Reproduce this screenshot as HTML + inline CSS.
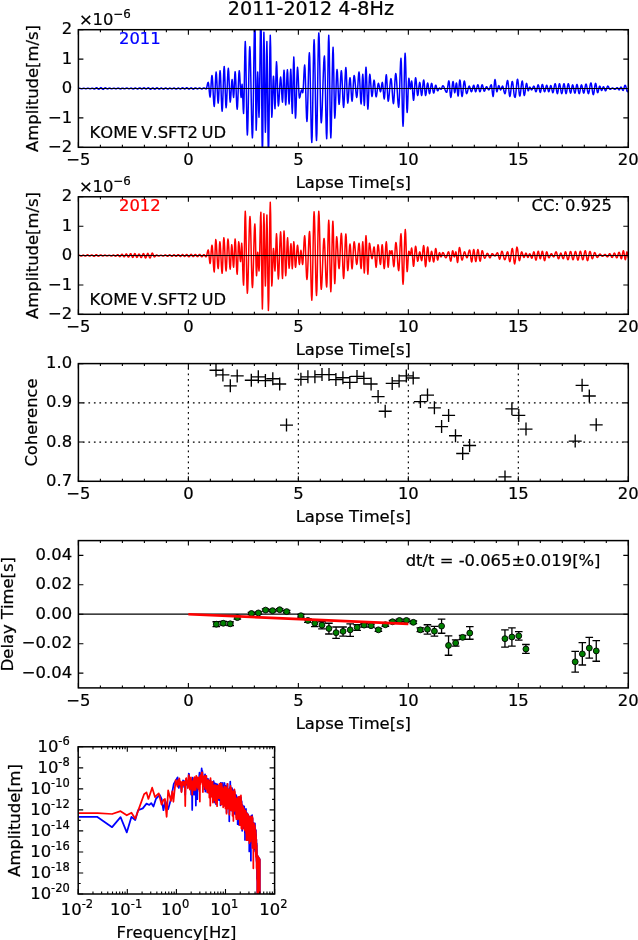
<!DOCTYPE html>
<html><head><meta charset="utf-8"><title>2011-2012 4-8Hz</title>
<style>html,body{margin:0;padding:0;background:#fff}svg{display:block}text{font-kerning:none;stroke-width:.22px}</style></head>
<body>
<svg width="638" height="940" viewBox="0 0 638 940" font-family='"DejaVu Sans", "Liberation Sans", sans-serif'>
<rect width="638" height="940" fill="#fff"/>
<text x="310.90" y="15.20" font-size="19.15" text-anchor="middle" fill="#000" stroke="#000" >2011-2012 4-8Hz</text>
<clipPath id="c1"><rect x="78.4" y="29.7" width="549.9" height="117.60000000000001"/></clipPath>
<g clip-path="url(#c1)"><path d="M77.18 88.68L77.55 88.65L77.92 88.58L78.29 88.47L78.66 88.36L79.03 88.29L79.39 88.26L79.76 88.29L80.13 88.39L80.50 88.51L80.87 88.64L81.24 88.74L81.60 88.77L81.97 88.74L82.33 88.65L82.69 88.52L83.05 88.40L83.41 88.31L83.77 88.28L84.12 88.31L84.47 88.39L84.82 88.50L85.17 88.61L85.52 88.70L85.87 88.73L86.22 88.69L86.58 88.59L86.94 88.46L87.29 88.32L87.65 88.22L88.01 88.19L88.37 88.23L88.73 88.35L89.10 88.51L89.46 88.67L89.82 88.78L90.18 88.82L90.54 88.78L90.89 88.66L91.24 88.49L91.60 88.32L91.95 88.20L92.30 88.15L92.66 88.22L93.02 88.39L93.38 88.62L93.73 88.85L94.09 89.02L94.45 89.09L94.80 88.99L95.15 88.74L95.49 88.38L95.84 88.03L96.19 87.77L96.54 87.68L96.91 87.79L97.28 88.08L97.65 88.47L98.02 88.87L98.39 89.15L98.76 89.26L99.12 89.15L99.48 88.85L99.83 88.44L100.19 88.02L100.54 87.72L100.90 87.61L101.26 87.73L101.62 88.06L101.98 88.51L102.33 88.96L102.69 89.28L103.05 89.40L103.42 89.30L103.78 89.01L104.15 88.61L104.52 88.21L104.88 87.92L105.25 87.81L105.62 87.89L105.99 88.09L106.36 88.37L106.73 88.65L107.10 88.86L107.46 88.93L107.81 88.88L108.15 88.72L108.49 88.51L108.83 88.30L109.17 88.15L109.52 88.10L109.88 88.14L110.24 88.28L110.60 88.46L110.96 88.64L111.32 88.77L111.68 88.82L112.03 88.77L112.39 88.65L112.75 88.48L113.10 88.30L113.46 88.18L113.82 88.13L114.19 88.18L114.56 88.32L114.94 88.50L115.31 88.68L115.68 88.82L116.06 88.86L116.41 88.81L116.76 88.67L117.11 88.47L117.46 88.27L117.80 88.13L118.15 88.08L118.51 88.13L118.87 88.29L119.23 88.50L119.59 88.71L119.95 88.86L120.31 88.92L120.69 88.86L121.06 88.72L121.44 88.52L121.81 88.32L122.18 88.17L122.56 88.12L122.91 88.17L123.25 88.31L123.60 88.49L123.95 88.68L124.30 88.82L124.64 88.87L125.00 88.82L125.37 88.66L125.73 88.45L126.09 88.24L126.45 88.08L126.81 88.03L127.18 88.08L127.54 88.23L127.91 88.43L128.27 88.63L128.64 88.77L129.00 88.83L129.34 88.78L129.69 88.64L130.03 88.46L130.37 88.27L130.71 88.13L131.06 88.08L131.41 88.14L131.77 88.30L132.12 88.52L132.48 88.73L132.83 88.89L133.19 88.95L133.55 88.89L133.92 88.72L134.29 88.49L134.66 88.25L135.02 88.08L135.39 88.02L135.75 88.08L136.10 88.26L136.46 88.50L136.82 88.74L137.17 88.92L137.53 88.98L137.89 88.91L138.26 88.72L138.62 88.45L138.99 88.19L139.35 87.99L139.71 87.92L140.07 87.99L140.43 88.19L140.79 88.46L141.15 88.72L141.51 88.92L141.87 88.99L142.23 88.91L142.59 88.70L142.94 88.41L143.30 88.12L143.65 87.91L144.01 87.84L144.36 87.91L144.71 88.13L145.06 88.42L145.41 88.71L145.76 88.93L146.11 89.01L146.47 88.93L146.83 88.72L147.19 88.43L147.55 88.14L147.91 87.92L148.27 87.85L148.64 87.94L149.01 88.20L149.38 88.56L149.75 88.92L150.12 89.18L150.49 89.27L150.85 89.18L151.22 88.93L151.58 88.59L151.94 88.25L152.30 87.99L152.66 87.90L153.02 87.99L153.39 88.23L153.75 88.56L154.12 88.88L154.48 89.12L154.84 89.21L155.20 89.11L155.56 88.85L155.91 88.50L156.27 88.14L156.62 87.89L156.98 87.79L157.34 87.88L157.71 88.13L158.07 88.46L158.44 88.80L158.81 89.04L159.17 89.13L159.52 89.06L159.88 88.86L160.23 88.58L160.58 88.30L160.93 88.10L161.29 88.02L161.66 88.10L162.03 88.30L162.40 88.58L162.77 88.86L163.14 89.07L163.51 89.14L163.86 89.06L164.21 88.85L164.55 88.55L164.90 88.25L165.25 88.03L165.60 87.95L165.96 88.03L166.32 88.23L166.68 88.51L167.04 88.78L167.40 88.99L167.76 89.06L168.10 89.00L168.44 88.81L168.79 88.56L169.13 88.31L169.47 88.13L169.81 88.07L170.17 88.12L170.53 88.28L170.88 88.50L171.24 88.72L171.60 88.88L171.95 88.94L172.30 88.88L172.65 88.71L173.00 88.49L173.35 88.27L173.70 88.10L174.05 88.04L174.41 88.11L174.77 88.29L175.13 88.53L175.48 88.78L175.84 88.96L176.20 89.02L176.55 88.96L176.90 88.78L177.25 88.54L177.60 88.29L177.94 88.11L178.29 88.05L178.65 88.11L179.01 88.29L179.36 88.53L179.72 88.77L180.07 88.95L180.43 89.01L180.78 88.93L181.14 88.71L181.49 88.40L181.85 88.10L182.20 87.88L182.55 87.80L182.91 87.88L183.27 88.10L183.63 88.40L183.99 88.70L184.35 88.92L184.71 89.00L185.06 88.92L185.40 88.69L185.74 88.38L186.08 88.07L186.43 87.84L186.77 87.75L187.14 87.84L187.52 88.09L187.89 88.42L188.26 88.76L188.63 89.00L189.01 89.09L189.37 89.01L189.74 88.79L190.11 88.48L190.47 88.17L190.84 87.95L191.20 87.86L191.54 87.95L191.89 88.19L192.23 88.52L192.57 88.85L192.91 89.09L193.25 89.17L193.61 89.08L193.96 88.84L194.32 88.52L194.68 88.19L195.03 87.95L195.39 87.86L195.73 87.93L196.07 88.13L196.42 88.40L196.76 88.67L197.10 88.87L197.45 88.94L197.81 88.88L198.18 88.70L198.55 88.47L198.92 88.23L199.28 88.05L199.65 87.99L200.01 88.06L200.37 88.24L200.72 88.49L201.08 88.74L201.44 88.92L201.79 88.98L202.14 88.91L202.49 88.72L202.84 88.47L203.19 88.21L203.54 88.02L203.89 87.95L204.26 88.01L204.63 88.20L205.00 88.44L205.37 88.69L205.74 88.87L206.11 88.94L206.46 88.50L206.81 87.30L207.16 85.65L207.51 84.01L207.86 82.81L208.21 82.37L208.59 83.77L208.97 87.44L209.34 91.97L209.72 95.64L210.09 97.04L210.47 94.97L210.85 89.56L211.22 82.88L211.60 77.47L211.97 75.41L212.35 77.49L212.73 83.17L213.10 90.92L213.48 98.68L213.86 104.36L214.23 106.44L214.61 103.16L214.98 94.55L215.36 83.91L215.74 75.31L216.11 72.02L216.46 74.10L216.80 79.78L217.15 87.54L217.49 95.30L217.84 100.98L218.18 103.06L218.56 99.97L218.93 91.88L219.31 81.88L219.69 73.79L220.06 70.71L220.41 73.41L220.75 80.82L221.10 90.92L221.44 101.03L221.79 108.44L222.13 111.14L222.48 108.15L222.82 99.95L223.17 88.76L223.51 77.57L223.86 69.38L224.20 66.38L224.58 70.33L224.95 80.68L225.33 93.46L225.71 103.81L226.08 107.76L226.46 105.11L226.83 97.88L227.21 88.01L227.59 78.13L227.96 70.91L228.34 68.26L228.71 71.49L229.09 79.96L229.47 90.42L229.84 98.88L230.22 102.12L230.60 99.96L230.97 94.32L231.35 87.34L231.72 81.70L232.10 79.55L232.48 82.16L232.85 88.48L233.23 94.80L233.61 97.41L233.98 93.64L234.36 84.53L234.73 75.42L235.11 71.65L235.45 74.17L235.80 81.05L236.14 90.45L236.49 99.86L236.83 106.74L237.18 109.26L237.52 106.68L237.87 99.62L238.21 89.98L238.56 80.34L238.90 73.29L239.25 70.71L239.62 73.26L240.00 79.93L240.38 88.19L240.75 94.86L241.13 97.41L241.36 95.49L241.60 90.83L241.83 86.18L242.07 84.25L242.45 88.52L242.82 98.82L243.20 109.13L243.57 113.40L243.91 106.54L244.25 88.58L244.59 66.38L244.93 48.41L245.27 41.55L245.61 47.81L245.96 64.92L246.30 88.29L246.65 111.66L246.99 128.77L247.34 135.03L247.68 130.65L248.03 118.39L248.38 100.67L248.73 81.00L249.08 63.27L249.43 51.01L249.78 46.63L250.16 51.15L250.53 63.80L250.91 82.09L251.29 102.39L251.66 120.68L252.04 133.34L252.41 137.85L252.76 131.89L253.11 115.19L253.46 91.06L253.81 64.27L254.16 40.14L254.51 23.44L254.86 17.48L255.19 34.00L255.52 73.90L255.85 113.80L256.18 130.33L256.55 121.79L256.93 101.18L257.30 80.56L257.68 72.02L258.01 78.63L258.34 94.59L258.67 110.55L259.00 117.16L259.37 107.28L259.75 81.42L260.13 49.46L260.50 23.59L260.88 13.71L261.25 34.65L261.63 85.19L262.01 135.73L262.38 156.66L262.76 138.43L263.13 94.40L263.51 50.38L263.89 32.15L264.26 46.80L264.64 82.18L265.02 117.56L265.39 132.21L265.77 118.93L266.14 86.88L266.52 54.83L266.90 41.55L267.27 58.13L267.65 98.17L268.03 138.20L268.40 154.78L268.78 143.38L269.15 113.52L269.53 76.61L269.91 46.75L270.28 35.34L270.66 47.33L271.03 76.25L271.41 105.18L271.79 117.16L272.13 113.25L272.46 103.00L272.80 90.33L273.14 80.08L273.48 76.16L273.86 80.93L274.23 92.43L274.61 103.93L274.98 108.70L275.36 101.84L275.74 85.28L276.11 68.72L276.49 61.87L276.87 66.07L277.24 77.07L277.62 90.67L277.99 101.67L278.37 105.88L278.75 103.95L279.12 98.68L279.50 91.49L279.87 84.29L280.25 79.03L280.63 77.10L281.00 79.49L281.38 85.74L281.76 93.47L282.13 99.73L282.51 102.12L282.88 97.43L283.26 86.13L283.64 74.82L284.01 70.14L284.35 73.46L284.69 82.16L285.03 92.92L285.37 101.61L285.71 104.94L286.04 101.58L286.38 92.79L286.72 81.92L287.06 73.12L287.40 69.76L287.74 73.03L288.08 81.59L288.41 92.17L288.75 100.73L289.09 104.00L289.43 100.67L289.77 91.98L290.11 81.22L290.45 72.52L290.78 69.20L291.16 75.67L291.54 91.30L291.91 106.93L292.29 113.40L292.66 105.14L293.04 85.19L293.42 65.24L293.79 56.97L294.13 62.81L294.47 78.09L294.81 96.98L295.15 112.27L295.49 118.10L295.83 114.70L296.17 105.41L296.50 92.71L296.84 80.02L297.18 70.72L297.52 67.32L297.90 70.25L298.28 77.91L298.65 87.39L299.03 95.05L299.40 97.98L299.78 97.44L300.16 95.96L300.53 93.93L300.91 91.91L301.29 90.43L301.66 89.89L301.94 90.30L302.23 91.30L302.51 92.30L302.79 92.71L303.17 90.07L303.54 83.16L303.92 74.62L304.29 67.70L304.67 65.06L305.05 68.84L305.42 79.17L305.80 93.28L306.18 107.38L306.55 117.71L306.93 121.49L307.28 118.09L307.63 108.56L307.98 94.80L308.33 79.52L308.67 65.76L309.02 56.24L309.37 52.84L309.72 57.28L310.07 69.73L310.42 87.71L310.77 107.68L311.12 125.67L311.47 138.11L311.82 142.55L312.19 135.66L312.57 116.83L312.95 91.11L313.32 65.39L313.70 46.56L314.08 39.67L314.42 44.66L314.77 58.65L315.12 78.86L315.47 101.30L315.82 121.51L316.17 135.49L316.52 140.49L316.90 133.28L317.27 113.59L317.65 86.69L318.03 59.80L318.40 40.11L318.78 32.90L319.13 37.35L319.48 49.82L319.83 67.85L320.17 87.86L320.52 105.88L320.87 118.35L321.22 122.81L321.58 120.79L321.93 114.99L322.29 106.11L322.64 95.22L323.00 83.62L323.35 72.73L323.71 63.85L324.06 58.05L324.42 56.03L324.80 61.58L325.17 76.72L325.55 97.41L325.92 118.10L326.30 133.25L326.68 138.79L327.02 131.86L327.37 112.93L327.71 87.07L328.06 61.21L328.40 42.27L328.75 35.34L329.09 42.21L329.44 60.97L329.78 86.60L330.13 112.23L330.47 130.99L330.82 137.85L331.19 131.78L331.57 115.19L331.94 92.52L332.32 69.86L332.70 53.27L333.07 47.19L333.41 53.97L333.75 71.69L334.09 93.60L334.43 111.33L334.76 118.10L335.14 114.85L335.52 105.97L335.89 93.84L336.27 81.71L336.65 72.83L337.02 69.58L337.37 71.91L337.71 78.28L338.06 86.97L338.40 95.67L338.75 102.04L339.09 104.37L339.47 102.12L339.84 95.96L340.22 87.54L340.60 79.12L340.97 72.96L341.35 70.71L341.72 73.16L342.10 79.87L342.48 89.04L342.85 98.21L343.23 104.93L343.61 107.38L343.98 104.71L344.36 97.41L344.73 87.45L345.11 77.48L345.49 70.18L345.86 67.51L346.24 70.90L346.61 79.79L346.99 90.77L347.37 99.66L347.74 103.06L348.12 101.36L348.50 96.71L348.87 90.36L349.25 84.01L349.62 79.37L350.00 77.66L350.34 79.24L350.69 83.54L351.03 89.42L351.38 95.30L351.72 99.60L352.07 101.18L352.41 99.45L352.76 94.73L353.10 88.29L353.45 81.85L353.79 77.13L354.14 75.41L354.51 76.50L354.89 79.55L355.27 83.96L355.64 88.86L356.02 93.27L356.39 96.32L356.77 97.41L357.15 95.71L357.52 91.07L357.90 84.72L358.28 78.37L358.65 73.72L359.03 72.02L359.37 74.16L359.72 80.02L360.06 88.01L360.41 96.00L360.75 101.85L361.10 104.00L361.44 101.16L361.77 93.73L362.11 84.55L362.45 77.12L362.79 74.28L363.17 78.85L363.54 89.89L363.92 100.93L364.29 105.50L364.63 101.84L364.97 92.25L365.31 80.39L365.65 70.80L365.99 67.13L366.36 71.14L366.74 81.62L367.12 94.58L367.49 105.07L367.87 109.08L368.24 105.75L368.62 97.05L369.00 86.30L369.37 77.60L369.75 74.28L370.13 75.77L370.50 79.83L370.88 85.38L371.25 90.92L371.63 94.99L372.01 96.47L372.35 95.38L372.70 92.38L373.04 88.29L373.39 84.20L373.73 81.21L374.08 80.11L374.42 81.23L374.76 84.29L375.11 88.48L375.45 92.66L375.80 95.73L376.14 96.85L376.52 95.94L376.90 93.46L377.27 90.08L377.65 86.69L378.03 84.21L378.40 83.31L378.75 83.87L379.09 85.42L379.44 87.54L379.78 89.66L380.13 91.20L380.47 91.77L380.85 90.87L381.22 88.52L381.60 85.62L381.97 83.26L382.35 82.37L382.73 83.95L383.10 88.09L383.48 93.20L383.86 97.34L384.23 98.92L384.58 97.29L384.92 92.85L385.27 86.79L385.61 80.72L385.96 76.28L386.30 74.66L386.68 77.19L387.05 83.82L387.43 92.01L387.81 98.64L388.18 101.18L388.53 100.32L388.89 97.87L389.24 94.21L389.59 89.89L389.95 85.57L390.30 81.91L390.65 79.46L391.00 78.61L391.35 79.84L391.70 83.31L392.05 88.33L392.40 93.90L392.75 98.91L393.10 102.38L393.45 103.62L393.82 101.60L394.20 96.10L394.58 88.57L394.95 81.05L395.33 75.54L395.71 73.53L396.04 74.54L396.37 77.47L396.71 81.94L397.04 87.44L397.38 93.28L397.71 98.78L398.05 103.26L398.38 106.18L398.71 107.19L399.09 103.92L399.47 94.97L399.84 82.74L400.22 70.52L400.60 61.57L400.97 58.29L401.32 62.84L401.66 75.27L402.01 92.24L402.35 109.22L402.70 121.64L403.04 126.19L403.39 121.30L403.73 107.95L404.08 89.70L404.42 71.46L404.76 58.10L405.11 53.21L405.45 57.18L405.79 68.03L406.13 82.84L406.47 97.65L406.81 108.49L407.15 112.46L407.49 109.19L407.82 100.63L408.16 90.06L408.50 81.50L408.84 78.23L409.22 79.80L409.59 83.59L409.97 87.38L410.34 88.95L410.67 87.79L411.00 85.00L411.33 82.21L411.66 81.05L412.04 82.88L412.41 87.68L412.79 93.61L413.17 98.40L413.54 100.24L413.89 98.72L414.23 94.59L414.58 88.95L414.92 83.31L415.27 79.18L415.61 77.66L415.96 78.86L416.30 82.13L416.65 86.60L416.99 91.07L417.34 94.34L417.68 95.53L418.03 94.65L418.37 92.24L418.71 88.95L419.06 85.66L419.40 83.25L419.75 82.37L420.13 83.62L420.50 86.92L420.88 90.98L421.25 94.28L421.63 95.53L421.97 94.49L422.32 91.63L422.66 87.73L423.01 83.82L423.35 80.97L423.70 79.92L424.08 81.41L424.45 85.32L424.83 90.14L425.20 94.04L425.58 95.53L425.92 94.69L426.27 92.38L426.61 89.23L426.96 86.08L427.30 83.78L427.65 82.93L428.03 83.95L428.40 86.64L428.78 89.95L429.15 92.63L429.53 93.65L429.87 92.96L430.22 91.07L430.56 88.48L430.91 85.89L431.25 84.00L431.60 83.31L431.94 83.96L432.29 85.75L432.63 88.20L432.98 90.64L433.32 92.43L433.67 93.09L434.01 92.56L434.36 91.11L434.70 89.14L435.05 87.16L435.39 85.72L435.74 85.19L436.11 85.73L436.49 87.14L436.87 88.88L437.24 90.29L437.62 90.83L437.99 90.56L438.37 89.86L438.75 88.98L439.12 88.28L439.50 88.01L439.87 88.20L440.25 88.67L440.63 89.13L441.00 89.33L441.38 88.98L441.76 88.09L442.13 86.99L442.51 86.09L442.88 85.75L443.23 85.89L443.57 86.27L443.91 86.89L444.25 87.68L444.59 88.58L444.94 89.51L445.28 90.41L445.62 91.20L445.96 91.81L446.30 92.20L446.65 92.34L447.02 91.57L447.40 89.47L447.77 86.60L448.15 83.73L448.53 81.63L448.90 80.86L449.28 82.44L449.66 86.58L450.03 91.70L450.41 95.83L450.78 97.41L451.16 96.34L451.54 93.42L451.91 89.42L452.29 85.42L452.66 82.50L453.04 81.43L453.38 82.50L453.72 85.33L454.06 88.81L454.39 91.63L454.73 92.71L455.07 91.78L455.41 89.33L455.75 86.31L456.09 83.86L456.43 82.93L456.76 84.19L457.10 87.48L457.44 91.55L457.78 94.84L458.12 96.10L458.46 94.55L458.80 90.51L459.13 85.51L459.47 81.47L459.81 79.92L460.19 81.03L460.56 84.06L460.94 88.20L461.32 92.34L461.69 95.36L462.07 96.47L462.45 95.44L462.82 92.62L463.20 88.76L463.57 84.91L463.95 82.08L464.33 81.05L464.70 81.89L465.08 84.20L465.45 87.35L465.83 90.50L466.21 92.81L466.58 93.65L466.96 93.28L467.34 92.24L467.71 90.73L468.09 89.05L468.46 87.54L468.84 86.50L469.22 86.13L469.59 86.51L469.97 87.54L470.34 88.95L470.72 90.36L471.10 91.39L471.47 91.77L471.85 91.33L472.23 90.13L472.60 88.48L472.98 86.83L473.35 85.63L473.73 85.19L474.11 85.82L474.48 87.46L474.86 89.50L475.24 91.14L475.61 91.77L475.99 91.30L476.36 90.03L476.74 88.29L477.12 86.55L477.49 85.28L477.87 84.81L478.21 85.28L478.56 86.55L478.90 88.29L479.25 90.03L479.59 91.30L479.94 91.77L480.31 91.30L480.69 90.03L481.07 88.29L481.44 86.55L481.82 85.28L482.19 84.81L482.54 85.24L482.88 86.41L483.23 88.01L483.57 89.61L483.92 90.78L484.26 91.21L484.64 90.90L485.02 90.08L485.39 88.95L485.77 87.82L486.14 87.00L486.52 86.69L486.90 86.91L487.27 87.49L487.65 88.29L488.03 89.09L488.40 89.68L488.78 89.89L489.13 89.64L489.48 88.93L489.83 87.92L490.17 86.79L490.52 85.77L490.87 85.06L491.22 84.81L491.60 85.93L491.97 88.84L492.35 92.44L492.73 95.36L493.10 96.47L493.48 94.86L493.86 90.62L494.23 85.39L494.61 81.16L494.98 79.55L495.36 80.71L495.74 83.77L496.11 87.55L496.49 90.60L496.87 91.77L497.24 91.18L497.62 89.63L497.99 87.71L498.37 86.16L498.75 85.56L499.12 85.98L499.50 87.06L499.87 88.40L500.25 89.48L500.63 89.89L501.00 89.53L501.38 88.59L501.76 87.43L502.13 86.49L502.51 86.13L502.86 86.50L503.21 87.54L503.56 89.05L503.91 90.73L504.25 92.24L504.60 93.28L504.95 93.65L505.33 93.00L505.71 91.17L506.08 88.53L506.46 85.60L506.83 82.96L507.21 81.14L507.59 80.49L507.96 81.56L508.34 84.48L508.71 88.48L509.09 92.48L509.47 95.40L509.84 96.47L510.19 95.73L510.54 93.64L510.89 90.62L511.24 87.28L511.59 84.26L511.94 82.17L512.29 81.43L512.64 82.20L512.99 84.37L513.34 87.50L513.69 90.97L514.03 94.10L514.38 96.26L514.73 97.04L514.82 97.09L514.91 97.23L514.99 97.36L515.08 97.41L515.43 96.51L515.78 93.98L516.13 90.32L516.48 86.26L516.82 82.60L517.17 80.07L517.52 79.17L517.90 80.30L518.28 83.40L518.65 87.63L519.03 91.87L519.40 94.96L519.78 96.10L520.13 95.35L520.48 93.26L520.83 90.25L521.18 86.90L521.53 83.88L521.88 81.80L522.23 81.05L522.57 82.02L522.92 84.67L523.26 88.29L523.61 91.91L523.95 94.56L524.29 95.53L524.67 94.71L525.05 92.48L525.42 89.42L525.80 86.36L526.18 84.13L526.55 83.31L526.89 84.03L527.23 85.91L527.57 88.23L527.91 90.11L528.24 90.83L528.62 90.28L529.00 88.95L529.37 87.62L529.75 87.07L530.13 87.34L530.50 88.04L530.88 88.92L531.25 89.62L531.63 89.89L532.01 89.64L532.38 88.95L532.76 88.01L533.13 87.07L533.51 86.38L533.89 86.13L534.23 86.51L534.58 87.54L534.92 88.95L535.27 90.36L535.61 91.39L535.96 91.77L536.33 91.30L536.71 90.03L537.08 88.29L537.46 86.55L537.84 85.28L538.21 84.81L538.56 85.32L538.90 86.69L539.25 88.57L539.59 90.45L539.94 91.83L540.28 92.34L540.63 91.81L540.97 90.36L541.32 88.39L541.66 86.41L542.01 84.96L542.35 84.44L542.73 84.93L543.10 86.27L543.48 88.10L543.86 89.94L544.23 91.28L544.61 91.77L544.95 91.33L545.30 90.13L545.64 88.48L545.99 86.83L546.33 85.63L546.68 85.19L547.02 85.63L547.37 86.83L547.71 88.48L548.06 90.13L548.40 91.33L548.75 91.77L549.09 91.36L549.44 90.22L549.78 88.67L550.13 87.12L550.47 85.98L550.82 85.56L551.16 86.04L551.50 87.35L551.85 89.14L552.19 90.92L552.54 92.23L552.88 92.71L553.26 92.11L553.64 90.45L554.01 88.20L554.39 85.94L554.76 84.29L555.14 83.68L555.52 84.35L555.89 86.18L556.27 88.67L556.65 91.16L557.02 92.98L557.40 93.65L557.74 92.98L558.09 91.16L558.43 88.67L558.78 86.18L559.12 84.35L559.47 83.68L559.84 84.35L560.22 86.18L560.60 88.67L560.97 91.16L561.35 92.98L561.72 93.65L562.10 92.98L562.48 91.16L562.85 88.67L563.23 86.18L563.61 84.35L563.98 83.68L564.33 84.35L564.67 86.18L565.02 88.67L565.36 91.16L565.71 92.98L566.05 93.65L566.43 92.98L566.80 91.16L567.18 88.67L567.55 86.18L567.93 84.35L568.31 83.68L568.68 84.31L569.06 86.03L569.44 88.39L569.81 90.74L570.19 92.46L570.56 93.09L570.91 92.53L571.25 91.02L571.60 88.95L571.94 86.88L572.29 85.37L572.63 84.81L573.01 85.37L573.39 86.88L573.76 88.95L574.14 91.02L574.51 92.53L574.89 93.09L575.24 92.51L575.58 90.92L575.92 88.76L576.27 86.60L576.61 85.02L576.96 84.44L577.34 85.05L577.71 86.74L578.09 89.04L578.46 91.35L578.84 93.03L579.22 93.65L579.59 93.06L579.97 91.44L580.34 89.23L580.72 87.02L581.10 85.40L581.47 84.81L581.85 85.37L582.23 86.88L582.60 88.95L582.98 91.02L583.35 92.53L583.73 93.09L584.11 92.48L584.48 90.83L584.86 88.57L585.24 86.32L585.61 84.66L585.99 84.06L586.34 84.53L586.69 85.87L587.04 87.79L587.38 89.92L587.73 91.85L588.08 93.18L588.43 93.65L588.78 93.12L589.13 91.63L589.48 89.48L589.83 87.10L590.18 84.95L590.53 83.46L590.88 82.93L591.23 83.51L591.58 85.13L591.93 87.46L592.27 90.06L592.62 92.40L592.97 94.02L593.32 94.59L593.70 93.84L594.08 91.77L594.45 88.95L594.83 86.13L595.20 84.06L595.58 83.31L595.92 83.94L596.27 85.66L596.61 88.01L596.96 90.36L597.30 92.08L597.65 92.71L597.99 92.27L598.34 91.07L598.68 89.42L599.03 87.77L599.37 86.57L599.72 86.13L600.09 86.54L600.47 87.62L600.85 88.96L601.22 90.04L601.60 90.45L601.97 90.10L602.35 89.15L602.73 87.99L603.10 87.05L603.48 86.69L603.82 86.97L604.17 87.73L604.51 88.76L604.86 89.80L605.20 90.55L605.55 90.83L605.92 90.52L606.30 89.66L606.68 88.48L607.05 87.30L607.43 86.44L607.81 86.13L608.18 86.34L608.56 86.93L608.93 87.73L609.31 88.53L609.69 89.11L610.06 89.33L610.41 89.26L610.76 89.08L611.11 88.81L611.46 88.52L611.81 88.26L612.16 88.07L612.51 88.01L612.86 88.07L613.21 88.26L613.56 88.52L613.91 88.81L614.25 89.08L614.60 89.26L614.95 89.33L615.33 89.21L615.71 88.90L616.08 88.48L616.46 88.06L616.83 87.75L617.21 87.63L617.59 87.85L617.96 88.41L618.34 89.11L618.71 89.67L619.09 89.89L619.47 89.62L619.84 88.92L620.22 88.04L620.60 87.34L620.97 87.07L621.32 87.30L621.66 87.92L622.01 88.76L622.35 89.61L622.70 90.23L623.04 90.45L623.39 90.10L623.73 89.14L624.08 87.82L624.42 86.50L624.76 85.54L625.11 85.19L625.46 85.51L625.81 86.43L626.16 87.75L626.51 89.21L626.86 90.53L627.21 91.45L627.55 91.77L627.92 91.38L628.29 90.30L628.65 88.83L629.02 87.36L629.39 86.28L629.75 85.88L630.12 86.19L630.49 87.03L630.85 88.17L631.22 89.32L631.59 90.16L631.95 90.46L632.32 90.22L632.69 89.56L633.05 88.66L633.42 87.76L633.79 87.11L634.15 86.86" fill="none" stroke="#0000ff" stroke-width="1.5" stroke-linejoin="round"/>
<path d="M78.4 88.50H628.3" stroke="#000" stroke-width="1"/></g>
<rect x="78.40" y="29.70" width="549.90" height="117.60" fill="none" stroke="#000" stroke-width="1.5"/>
<path d="M78.40 29.70h5M628.30 29.70h-5M78.40 59.10h5M628.30 59.10h-5M78.40 88.50h5M628.30 88.50h-5M78.40 117.90h5M628.30 117.90h-5M78.40 147.30h5M628.30 147.30h-5" stroke="#000" stroke-width="1.1" fill="none"/>
<path d="M78.40 147.30v-5M78.40 29.70v5M188.38 147.30v-5M188.38 29.70v5M298.36 147.30v-5M298.36 29.70v5M408.34 147.30v-5M408.34 29.70v5M518.32 147.30v-5M518.32 29.70v5M628.30 147.30v-5M628.30 29.70v5" stroke="#000" stroke-width="1.1" fill="none"/>
<path d="M100.40 147.30v-2.5M100.40 29.70v2.5M122.39 147.30v-2.5M122.39 29.70v2.5M144.39 147.30v-2.5M144.39 29.70v2.5M166.38 147.30v-2.5M166.38 29.70v2.5M210.38 147.30v-2.5M210.38 29.70v2.5M232.37 147.30v-2.5M232.37 29.70v2.5M254.37 147.30v-2.5M254.37 29.70v2.5M276.36 147.30v-2.5M276.36 29.70v2.5M320.36 147.30v-2.5M320.36 29.70v2.5M342.35 147.30v-2.5M342.35 29.70v2.5M364.35 147.30v-2.5M364.35 29.70v2.5M386.34 147.30v-2.5M386.34 29.70v2.5M430.34 147.30v-2.5M430.34 29.70v2.5M452.33 147.30v-2.5M452.33 29.70v2.5M474.33 147.30v-2.5M474.33 29.70v2.5M496.32 147.30v-2.5M496.32 29.70v2.5M540.32 147.30v-2.5M540.32 29.70v2.5M562.31 147.30v-2.5M562.31 29.70v2.5M584.31 147.30v-2.5M584.31 29.70v2.5M606.30 147.30v-2.5M606.30 29.70v2.5" stroke="#000" stroke-width="1.1" fill="none"/>
<text x="78.40" y="165.20" font-size="16.4" text-anchor="middle" fill="#000" stroke="#000" >−5</text>
<text x="188.38" y="165.20" font-size="16.4" text-anchor="middle" fill="#000" stroke="#000" >0</text>
<text x="298.36" y="165.20" font-size="16.4" text-anchor="middle" fill="#000" stroke="#000" >5</text>
<text x="408.34" y="165.20" font-size="16.4" text-anchor="middle" fill="#000" stroke="#000" >10</text>
<text x="518.32" y="165.20" font-size="16.4" text-anchor="middle" fill="#000" stroke="#000" >15</text>
<text x="628.30" y="165.20" font-size="16.4" text-anchor="middle" fill="#000" stroke="#000" >20</text>
<text x="353.35" y="188.20" font-size="16.4" text-anchor="middle" fill="#000" stroke="#000" >Lapse Time[s]</text>
<text x="72.10" y="34.30" font-size="16.4" text-anchor="end" fill="#000" stroke="#000" >2</text>
<text x="72.10" y="63.70" font-size="16.4" text-anchor="end" fill="#000" stroke="#000" >1</text>
<text x="72.10" y="93.10" font-size="16.4" text-anchor="end" fill="#000" stroke="#000" >0</text>
<text x="72.10" y="122.50" font-size="16.4" text-anchor="end" fill="#000" stroke="#000" >−1</text>
<text x="72.10" y="151.90" font-size="16.4" text-anchor="end" fill="#000" stroke="#000" >−2</text>
<text transform="translate(38.00 88.50) rotate(-90)" font-size="16.4" text-anchor="middle" fill="#000" stroke="#000">Amplitude[m/s]</text>
<text x="78.90" y="25.20" font-size="16.4" fill="#000" stroke="#000">×10<tspan dy="-7.3" font-size="11.81">−6</tspan></text>
<text x="119.00" y="43.70" font-size="16.4" text-anchor="start" fill="#0000ff" stroke="#0000ff" >2011</text>
<text x="89.50" y="138.10" font-size="16.4" text-anchor="start" fill="#000" stroke="#000" word-spacing="-1.6">KOME V.SFT2 UD</text>
<clipPath id="c2"><rect x="78.4" y="196.8" width="549.9" height="117.5"/></clipPath>
<g clip-path="url(#c2)"><path d="M77.01 255.97L77.36 255.92L77.72 255.78L78.07 255.59L78.42 255.39L78.78 255.25L79.13 255.20L79.47 255.26L79.82 255.43L80.17 255.66L80.52 255.89L80.86 256.06L81.21 256.12L81.55 256.05L81.89 255.85L82.24 255.59L82.58 255.32L82.92 255.12L83.27 255.05L83.63 255.12L84.00 255.30L84.36 255.55L84.73 255.80L85.09 255.98L85.46 256.05L85.80 255.97L86.15 255.75L86.50 255.45L86.84 255.15L87.19 254.93L87.54 254.85L87.89 254.94L88.24 255.16L88.59 255.47L88.94 255.78L89.29 256.01L89.64 256.09L90.00 256.01L90.37 255.79L90.74 255.49L91.10 255.18L91.47 254.96L91.83 254.88L92.21 254.98L92.58 255.26L92.95 255.64L93.33 256.01L93.70 256.29L94.07 256.39L94.44 256.27L94.80 255.97L95.17 255.54L95.53 255.12L95.90 254.81L96.26 254.70L96.61 254.80L96.97 255.08L97.32 255.45L97.67 255.83L98.03 256.10L98.38 256.21L98.75 256.12L99.11 255.89L99.48 255.57L99.84 255.25L100.21 255.02L100.58 254.93L100.95 255.00L101.32 255.19L101.69 255.46L102.06 255.72L102.43 255.91L102.80 255.98L103.15 255.92L103.50 255.75L103.85 255.53L104.20 255.30L104.55 255.14L104.90 255.08L105.26 255.13L105.62 255.29L105.98 255.50L106.34 255.71L106.70 255.86L107.05 255.92L107.43 255.87L107.80 255.72L108.17 255.53L108.54 255.33L108.91 255.19L109.28 255.14L109.63 255.20L109.98 255.37L110.33 255.60L110.68 255.84L111.03 256.01L111.38 256.07L111.73 256.00L112.07 255.80L112.42 255.53L112.76 255.26L113.10 255.06L113.45 254.99L113.79 255.07L114.14 255.28L114.49 255.58L114.84 255.88L115.19 256.09L115.53 256.17L115.90 256.07L116.27 255.80L116.63 255.42L117.00 255.05L117.36 254.78L117.73 254.68L118.07 254.81L118.42 255.17L118.76 255.67L119.11 256.16L119.45 256.52L119.79 256.65L120.17 256.49L120.54 256.04L120.91 255.42L121.29 254.81L121.66 254.36L122.03 254.19L122.38 254.37L122.73 254.86L123.08 255.52L123.43 256.18L123.77 256.67L124.12 256.84L124.48 256.65L124.85 256.14L125.21 255.43L125.57 254.72L125.93 254.21L126.29 254.02L126.65 254.22L127.01 254.77L127.37 255.53L127.73 256.29L128.09 256.84L128.44 257.05L128.81 256.82L129.17 256.22L129.54 255.39L129.91 254.55L130.27 253.95L130.64 253.72L130.99 253.97L131.34 254.64L131.69 255.56L132.04 256.48L132.40 257.16L132.75 257.40L133.10 257.15L133.45 256.46L133.80 255.52L134.15 254.58L134.50 253.90L134.85 253.64L135.20 253.89L135.55 254.58L135.89 255.51L136.24 256.44L136.59 257.12L136.93 257.37L137.29 257.15L137.64 256.53L137.99 255.69L138.34 254.85L138.70 254.23L139.05 254.01L139.41 254.25L139.76 254.89L140.12 255.78L140.48 256.66L140.84 257.31L141.20 257.55L141.57 257.28L141.94 256.54L142.31 255.53L142.69 254.52L143.06 253.78L143.43 253.51L143.79 253.81L144.14 254.64L144.50 255.77L144.86 256.89L145.22 257.72L145.57 258.02L145.94 257.71L146.31 256.87L146.69 255.71L147.06 254.56L147.43 253.71L147.80 253.40L148.17 253.71L148.54 254.55L148.91 255.69L149.28 256.84L149.65 257.68L150.02 257.98L150.39 257.66L150.76 256.77L151.13 255.55L151.51 254.34L151.88 253.45L152.25 253.12L152.61 253.37L152.97 254.06L153.33 255.00L153.69 255.94L154.05 256.62L154.41 256.88L154.77 256.75L155.14 256.40L155.50 255.93L155.87 255.45L156.23 255.10L156.60 254.98L156.95 255.05L157.29 255.25L157.64 255.53L157.99 255.81L158.33 256.01L158.68 256.08L159.06 256.02L159.43 255.85L159.81 255.61L160.18 255.38L160.55 255.21L160.93 255.15L161.30 255.21L161.66 255.38L162.03 255.62L162.40 255.85L162.77 256.03L163.14 256.09L163.51 256.01L163.88 255.81L164.25 255.52L164.62 255.23L165.00 255.03L165.37 254.95L165.74 255.04L166.10 255.28L166.47 255.60L166.84 255.93L167.21 256.17L167.58 256.26L167.92 256.16L168.27 255.90L168.62 255.55L168.97 255.19L169.32 254.93L169.66 254.84L170.04 254.93L170.41 255.20L170.79 255.56L171.16 255.92L171.54 256.18L171.91 256.28L172.26 256.18L172.61 255.92L172.95 255.55L173.30 255.19L173.64 254.92L173.99 254.82L174.33 254.92L174.68 255.19L175.02 255.56L175.36 255.93L175.70 256.20L176.04 256.30L176.41 256.19L176.77 255.89L177.13 255.47L177.49 255.06L177.85 254.76L178.21 254.64L178.58 254.77L178.95 255.10L179.32 255.55L179.69 256.01L180.06 256.34L180.44 256.46L180.79 256.33L181.14 255.98L181.49 255.51L181.84 255.03L182.20 254.68L182.55 254.55L182.89 254.68L183.23 255.02L183.58 255.49L183.92 255.95L184.26 256.30L184.60 256.42L184.96 256.29L185.31 255.94L185.66 255.46L186.01 254.98L186.36 254.62L186.71 254.49L187.07 254.65L187.43 255.08L187.79 255.66L188.15 256.24L188.51 256.67L188.87 256.82L189.24 256.66L189.62 256.21L189.99 255.60L190.37 254.99L190.74 254.54L191.12 254.37L191.47 254.52L191.83 254.93L192.18 255.49L192.54 256.04L192.89 256.45L193.24 256.60L193.59 256.46L193.94 256.06L194.29 255.52L194.63 254.98L194.98 254.58L195.33 254.43L195.69 254.59L196.05 255.00L196.41 255.56L196.77 256.12L197.14 256.53L197.50 256.68L197.85 256.52L198.20 256.11L198.55 255.54L198.91 254.97L199.26 254.55L199.61 254.40L199.98 254.56L200.34 254.99L200.71 255.59L201.07 256.18L201.44 256.62L201.81 256.77L202.15 256.63L202.50 256.25L202.84 255.72L203.18 255.19L203.53 254.80L203.87 254.66L204.25 254.81L204.62 255.20L204.99 255.74L205.37 256.29L205.74 256.68L206.11 256.83L206.46 256.37L206.81 255.10L207.16 253.38L207.51 251.66L207.86 250.39L208.21 249.93L208.59 251.22L208.97 254.61L209.34 258.79L209.72 262.18L210.09 263.47L210.47 261.73L210.85 257.17L211.22 251.53L211.60 246.97L211.97 245.23L212.35 247.02L212.73 251.91L213.10 258.58L213.48 265.26L213.86 270.15L214.23 271.94L214.61 267.20L214.98 255.76L215.36 244.32L215.74 239.59L216.09 241.02L216.44 245.04L216.78 250.85L217.13 257.29L217.48 263.10L217.83 267.12L218.18 268.55L218.52 266.00L218.86 259.32L219.20 251.07L219.54 244.39L219.87 241.84L220.25 243.95L220.63 249.70L221.00 257.55L221.38 265.40L221.76 271.15L222.13 273.25L222.47 269.86L222.81 260.97L223.15 249.99L223.49 241.10L223.82 237.71L224.20 239.94L224.58 246.03L224.95 254.35L225.33 262.67L225.71 268.77L226.08 271.00L226.46 267.94L226.83 259.95L227.21 250.07L227.59 242.08L227.96 239.02L228.34 241.04L228.71 246.55L229.09 254.07L229.47 261.59L229.84 267.10L230.22 269.12L230.60 265.54L230.97 256.89L231.35 248.25L231.72 244.66L232.10 246.82L232.48 252.46L232.85 259.44L233.23 265.08L233.61 267.24L233.98 263.10L234.36 253.13L234.73 243.15L235.11 239.02L235.45 241.38L235.80 247.82L236.14 256.61L236.49 265.40L236.83 271.84L237.18 274.19L237.55 269.46L237.93 258.02L238.31 246.58L238.68 241.84L239.06 243.73L239.44 248.67L239.81 254.77L240.19 259.71L240.56 261.59L240.85 258.92L241.13 252.47L241.41 246.02L241.69 243.35L242.07 247.34L242.45 257.77L242.82 270.68L243.20 281.12L243.57 285.10L243.91 278.06L244.25 259.63L244.59 236.85L244.93 218.41L245.27 211.37L245.61 216.85L245.96 231.83L246.30 252.28L246.65 272.74L246.99 287.71L247.34 293.19L247.71 289.39L248.09 278.74L248.46 263.36L248.84 246.28L249.22 230.90L249.59 220.25L249.97 216.45L250.32 219.97L250.67 229.84L251.02 244.09L251.37 259.91L251.72 274.16L252.06 284.03L252.41 287.55L252.76 284.40L253.11 275.58L253.46 262.83L253.81 248.69L254.16 235.94L254.51 227.12L254.86 223.97L255.20 228.91L255.54 241.85L255.87 257.83L256.21 270.76L256.55 275.70L256.83 272.26L257.12 263.94L257.40 255.63L257.68 252.19L258.01 254.94L258.34 261.59L258.67 268.24L259.00 271.00L259.37 265.39L259.75 250.72L260.13 232.59L260.50 217.92L260.88 212.31L261.25 226.47L261.63 260.65L262.01 294.83L262.38 308.99L262.76 295.03L263.13 261.31L263.51 227.60L263.89 213.63L264.26 224.23L264.64 249.84L265.02 275.44L265.39 286.04L265.77 275.63L266.14 250.50L266.52 225.36L266.90 214.95L267.27 228.94L267.65 262.72L268.03 296.50L268.40 310.50L268.78 300.17L269.15 273.13L269.53 239.71L269.91 212.67L270.28 202.34L270.66 214.60L271.03 244.19L271.41 273.79L271.79 286.04L272.13 282.45L272.46 273.05L272.80 261.42L273.14 252.02L273.48 248.43L273.86 251.73L274.23 259.71L274.61 267.69L274.98 271.00L275.36 265.54L275.74 252.38L276.11 239.21L276.49 233.76L276.87 238.07L277.24 249.35L277.62 263.30L277.99 274.59L278.37 278.90L278.75 275.75L279.12 267.14L279.50 255.39L279.87 243.63L280.25 235.02L280.63 231.87L281.00 236.33L281.38 247.99L281.76 262.40L282.13 274.07L282.51 278.52L282.88 271.55L283.26 254.73L283.64 237.90L284.01 230.93L284.35 235.21L284.69 246.40L285.03 260.23L285.37 271.42L285.71 275.70L286.08 272.07L286.46 262.57L286.83 250.83L287.21 241.33L287.59 237.71L287.96 242.17L288.34 252.94L288.71 263.71L289.09 268.18L289.47 265.84L289.84 259.73L290.22 252.17L290.60 246.06L290.97 243.72L291.30 247.39L291.63 256.23L291.96 265.08L292.29 268.74L292.66 264.80L293.04 255.29L293.42 245.78L293.79 241.84L294.13 244.27L294.47 250.62L294.81 258.46L295.15 264.81L295.49 267.24L295.83 265.76L296.17 261.73L296.50 256.23L296.84 250.73L297.18 246.70L297.52 245.23L297.90 247.06L298.28 251.86L298.65 257.79L299.03 262.58L299.40 264.41L299.78 262.35L300.16 257.36L300.53 252.37L300.91 250.31L301.25 251.65L301.59 255.18L301.92 259.54L302.26 263.07L302.60 264.41L302.95 262.50L303.29 257.27L303.64 250.12L303.98 242.97L304.33 237.74L304.67 235.82L305.05 238.75L305.42 246.73L305.80 257.64L306.18 268.55L306.55 276.54L306.93 279.46L307.30 277.09L307.68 270.43L308.06 260.82L308.43 250.14L308.81 240.53L309.18 233.87L309.56 231.50L309.94 236.10L310.31 248.66L310.69 265.82L311.07 282.99L311.44 295.55L311.82 300.15L312.19 294.23L312.57 278.05L312.95 255.95L313.32 233.85L313.70 217.67L314.08 211.75L314.42 215.89L314.77 227.51L315.12 244.29L315.47 262.91L315.82 279.69L316.17 291.30L316.52 295.45L316.90 289.82L317.27 274.43L317.65 253.41L318.03 232.39L318.40 217.01L318.78 211.37L319.13 215.23L319.48 226.03L319.83 241.64L320.17 258.97L320.52 274.58L320.87 285.39L321.22 289.24L321.58 287.31L321.93 281.80L322.28 273.57L322.63 263.85L322.99 254.13L323.34 245.89L323.69 240.39L324.04 238.46L324.42 240.86L324.80 247.59L325.17 257.32L325.55 268.12L325.92 277.85L326.30 284.58L326.68 286.98L327.02 282.51L327.37 270.29L327.71 253.60L328.06 236.91L328.40 224.69L328.75 220.21L329.09 225.00L329.44 238.08L329.78 255.95L330.13 273.82L330.47 286.90L330.82 291.69L331.16 286.96L331.50 274.05L331.85 256.42L332.19 238.79L332.54 225.88L332.88 221.15L333.26 227.12L333.64 242.73L334.01 262.02L334.39 277.64L334.76 283.60L335.14 279.13L335.52 267.42L335.89 252.95L336.27 241.24L336.65 236.76L337.00 238.34L337.34 242.75L337.69 249.12L338.04 256.19L338.39 262.57L338.74 266.98L339.09 268.55L339.47 266.20L339.84 259.76L340.22 250.97L340.60 242.17L340.97 235.74L341.35 233.38L341.72 236.40L342.10 244.66L342.48 255.95L342.85 267.24L343.23 275.50L343.61 278.52L343.98 275.53L344.36 267.38L344.73 256.23L345.11 245.09L345.49 236.93L345.86 233.94L346.24 237.45L346.61 246.62L346.99 257.95L347.37 267.12L347.74 270.62L348.12 268.84L348.50 263.99L348.87 257.36L349.25 250.73L349.62 245.88L350.00 244.10L350.34 245.75L350.69 250.26L351.03 256.42L351.38 262.58L351.72 267.09L352.07 268.74L352.41 266.94L352.76 262.02L353.10 255.29L353.45 248.57L353.79 243.64L354.14 241.84L354.51 242.96L354.89 246.09L355.27 250.62L355.64 255.64L356.02 260.16L356.39 263.30L356.77 264.41L357.15 262.99L357.52 259.10L357.90 253.79L358.28 248.47L358.65 244.58L359.03 243.16L359.37 244.86L359.72 249.51L360.06 255.86L360.41 262.20L360.75 266.85L361.10 268.55L361.44 266.00L361.77 259.32L362.11 251.07L362.45 244.39L362.79 241.84L363.17 246.39L363.54 257.36L363.92 268.33L364.29 272.88L364.63 269.32L364.97 260.01L365.31 248.50L365.65 239.19L365.99 235.64L366.36 239.32L366.74 248.96L367.12 260.87L367.49 270.51L367.87 274.19L368.24 269.65L368.62 258.68L369.00 247.70L369.37 243.16L369.75 243.93L370.13 246.10L370.50 249.23L370.88 252.70L371.25 255.83L371.63 258.00L372.01 258.77L372.35 257.98L372.70 255.81L373.04 252.85L373.39 249.88L373.73 247.72L374.08 246.92L374.42 248.28L374.76 252.00L375.11 257.08L375.45 262.16L375.80 265.87L376.14 267.24L376.52 265.08L376.90 259.44L377.27 252.46L377.65 246.82L378.03 244.66L378.37 245.64L378.72 248.38L379.07 252.34L379.42 256.74L379.77 260.70L380.12 263.44L380.47 264.41L380.81 262.53L381.15 257.59L381.49 251.49L381.82 246.55L382.16 244.66L382.51 246.26L382.85 250.64L383.20 256.61L383.54 262.58L383.89 266.95L384.23 268.55L384.58 266.76L384.92 261.87L385.27 255.20L385.61 248.52L385.96 243.63L386.30 241.84L386.68 244.27L387.05 250.62L387.43 258.46L387.81 264.81L388.18 267.24L388.56 264.81L388.93 258.96L389.31 253.11L389.69 250.68L389.97 251.18L390.25 252.38L390.53 253.57L390.82 254.07L391.10 253.57L391.38 252.38L391.66 251.18L391.94 250.68L392.32 252.21L392.70 256.21L393.07 261.15L393.45 265.14L393.82 266.67L394.17 265.05L394.51 260.61L394.86 254.54L395.20 248.47L395.55 244.03L395.89 242.41L396.25 243.48L396.60 246.54L396.95 251.12L397.30 256.51L397.66 261.91L398.01 266.49L398.36 269.55L398.71 270.62L399.09 268.15L399.47 261.40L399.84 252.19L400.22 242.97L400.60 236.22L400.97 233.76L401.32 237.13L401.66 246.36L402.01 258.96L402.35 271.56L402.70 280.79L403.04 284.16L403.42 280.51L403.79 270.53L404.17 256.89L404.55 243.25L404.92 233.27L405.30 229.62L405.67 233.62L406.04 244.11L406.41 257.07L406.78 267.56L407.15 271.56L407.49 269.62L407.82 264.54L408.16 258.27L408.50 253.19L408.84 251.25L409.22 251.80L409.59 253.13L409.97 254.46L410.34 255.01L410.67 253.99L411.00 251.53L411.33 249.07L411.66 248.05L412.04 249.79L412.41 254.35L412.79 259.99L413.17 264.55L413.54 266.29L413.89 264.95L414.23 261.26L414.58 256.23L414.92 251.20L415.27 247.52L415.61 246.17L415.96 247.18L416.30 249.93L416.65 253.69L416.99 257.45L417.34 260.21L417.68 261.22L418.03 260.59L418.37 258.87L418.71 256.51L419.06 254.16L419.40 252.44L419.75 251.81L420.13 252.66L420.50 254.87L420.88 257.60L421.25 259.81L421.63 260.65L421.97 259.64L422.32 256.89L422.66 253.13L423.01 249.37L423.35 246.61L423.70 245.61L424.08 247.62L424.45 252.88L424.83 259.39L425.20 264.66L425.58 266.67L425.92 265.35L426.27 261.73L426.61 256.80L426.96 251.86L427.30 248.24L427.65 246.92L428.03 248.32L428.40 251.99L428.78 256.52L429.15 260.19L429.53 261.59L429.87 260.90L430.22 259.01L430.56 256.42L430.91 253.83L431.25 251.94L431.60 251.25L431.94 251.97L432.29 253.93L432.63 256.61L432.98 259.29L433.32 261.25L433.67 261.97L434.01 261.06L434.36 258.58L434.70 255.20L435.05 251.81L435.39 249.33L435.74 248.43L436.11 249.54L436.49 252.46L436.87 256.06L437.24 258.97L437.62 260.09L437.99 259.37L438.37 257.49L438.75 255.16L439.12 253.28L439.50 252.56L439.87 253.20L440.25 254.73L440.63 256.26L441.00 256.89L441.38 256.48L441.76 255.40L442.13 254.06L442.51 252.98L442.88 252.56L443.22 252.72L443.55 253.18L443.89 253.88L444.22 254.74L444.56 255.65L444.89 256.51L445.22 257.21L445.56 257.67L445.89 257.83L446.27 257.53L446.65 256.70L447.02 255.49L447.40 254.15L447.77 252.94L448.15 252.11L448.53 251.81L448.90 252.44L449.28 254.16L449.66 256.51L450.03 258.87L450.41 260.59L450.78 261.22L451.16 260.21L451.54 257.58L451.91 254.32L452.29 251.69L452.66 250.68L453.00 251.28L453.34 252.83L453.68 254.75L454.02 256.30L454.36 256.89L454.73 256.15L455.11 254.35L455.49 252.56L455.86 251.81L456.20 252.84L456.54 255.52L456.88 258.83L457.22 261.51L457.55 262.53L457.93 261.10L458.31 257.33L458.68 252.68L459.06 248.92L459.44 247.49L459.81 248.11L460.19 249.86L460.56 252.38L460.94 255.19L461.32 257.72L461.69 259.46L462.07 260.09L462.42 259.68L462.77 258.53L463.12 256.87L463.47 255.03L463.82 253.37L464.16 252.22L464.51 251.81L464.86 252.11L465.21 252.94L465.56 254.15L465.91 255.49L466.26 256.70L466.61 257.53L466.96 257.83L467.34 257.44L467.71 256.34L468.09 254.76L468.46 253.00L468.84 251.42L469.22 250.32L469.59 249.93L469.94 250.74L470.28 252.94L470.63 255.95L470.97 258.96L471.32 261.16L471.66 261.97L472.01 261.14L472.35 258.87L472.70 255.76L473.04 252.66L473.39 250.39L473.73 249.55L474.08 250.36L474.42 252.56L474.76 255.57L475.11 258.58L475.45 260.79L475.80 261.59L476.14 260.79L476.49 258.58L476.83 255.57L477.18 252.56L477.52 250.36L477.87 249.55L478.24 250.34L478.62 252.47L479.00 255.39L479.37 258.30L479.75 260.44L480.13 261.22L480.47 260.51L480.82 258.58L481.16 255.95L481.50 253.32L481.85 251.39L482.19 250.68L482.54 251.06L482.89 252.10L483.24 253.61L483.59 255.28L483.94 256.79L484.29 257.83L484.64 258.21L484.99 258.02L485.34 257.49L485.70 256.70L486.05 255.76L486.40 254.83L486.76 254.03L487.11 253.50L487.46 253.32L487.81 253.54L488.16 254.17L488.51 255.07L488.86 256.08L489.21 256.98L489.56 257.61L489.91 257.83L490.28 257.55L490.66 256.80L491.03 255.76L491.41 254.73L491.79 253.97L492.16 253.69L492.52 253.78L492.87 254.02L493.22 254.39L493.57 254.82L493.93 255.25L494.28 255.62L494.63 255.86L494.98 255.95L495.33 255.79L495.68 255.35L496.03 254.71L496.38 254.00L496.73 253.35L497.08 252.91L497.43 252.75L497.81 253.18L498.18 254.35L498.56 255.95L498.93 257.55L499.31 258.72L499.69 259.15L500.06 258.62L500.44 257.17L500.82 255.20L501.19 253.22L501.57 251.78L501.94 251.25L502.30 251.57L502.65 252.49L503.00 253.86L503.35 255.48L503.71 257.10L504.06 258.47L504.41 259.39L504.76 259.71L505.12 259.41L505.47 258.55L505.82 257.27L506.18 255.76L506.53 254.25L506.88 252.97L507.23 252.11L507.59 251.81L507.96 252.47L508.34 254.26L508.71 256.70L509.09 259.15L509.47 260.94L509.84 261.59L510.19 260.94L510.54 259.11L510.89 256.47L511.24 253.54L511.59 250.90L511.94 249.08L512.29 248.43L512.63 249.20L512.98 251.37L513.32 254.50L513.67 257.97L514.01 261.10L514.36 263.26L514.70 264.04L514.71 263.95L514.72 263.76L514.73 263.56L514.73 263.47L515.10 262.38L515.48 259.38L515.85 255.29L516.22 251.20L516.59 248.21L516.96 247.11L517.31 247.78L517.66 249.66L518.01 252.37L518.36 255.39L518.71 258.10L519.06 259.98L519.40 260.65L519.78 260.06L520.16 258.44L520.53 256.23L520.91 254.02L521.29 252.40L521.66 251.81L522.04 252.19L522.41 253.22L522.79 254.63L523.17 256.04L523.54 257.08L523.92 257.45L524.26 257.16L524.61 256.37L524.95 255.29L525.30 254.21L525.64 253.42L525.99 253.13L526.36 253.54L526.74 254.62L527.12 255.96L527.49 257.04L527.87 257.45L528.24 257.10L528.62 256.15L529.00 254.99L529.37 254.05L529.75 253.69L530.09 254.00L530.44 254.82L530.78 255.95L531.13 257.08L531.47 257.90L531.82 258.21L532.16 257.78L532.51 256.61L532.85 255.01L533.20 253.41L533.54 252.24L533.89 251.81L534.23 252.37L534.58 253.88L534.92 255.95L535.27 258.02L535.61 259.53L535.96 260.09L536.33 259.50L536.71 257.88L537.08 255.67L537.46 253.46L537.84 251.84L538.21 251.25L538.56 251.75L538.90 253.13L539.25 255.01L539.59 256.89L539.94 258.27L540.28 258.77L540.63 258.27L540.97 256.89L541.32 255.01L541.66 253.13L542.01 251.75L542.35 251.25L542.73 251.88L543.10 253.60L543.48 255.95L543.86 258.30L544.23 260.02L544.61 260.65L544.95 260.06L545.30 258.44L545.64 256.23L545.99 254.02L546.33 252.40L546.68 251.81L547.05 252.22L547.43 253.32L547.81 254.82L548.18 256.33L548.56 257.43L548.93 257.83L549.28 257.63L549.63 257.05L549.98 256.22L550.33 255.30L550.68 254.47L551.03 253.90L551.38 253.69L551.76 253.91L552.13 254.49L552.51 255.29L552.88 256.09L553.26 256.68L553.64 256.89L553.99 256.64L554.33 255.93L554.68 254.92L555.03 253.79L555.38 252.77L555.73 252.06L556.08 251.81L556.43 252.16L556.78 253.12L557.13 254.52L557.48 256.07L557.83 257.46L558.18 258.43L558.53 258.77L558.90 258.39L559.28 257.36L559.66 255.95L560.03 254.54L560.41 253.51L560.78 253.13L561.13 253.41L561.48 254.19L561.83 255.32L562.18 256.58L562.53 257.71L562.88 258.49L563.23 258.77L563.61 258.30L563.98 257.03L564.36 255.29L564.73 253.55L565.11 252.28L565.49 251.81L565.84 252.20L566.18 253.30L566.53 254.88L566.88 256.64L567.23 258.22L567.58 259.32L567.93 259.71L568.31 259.30L568.68 258.15L569.06 256.49L569.44 254.65L569.81 252.99L570.19 251.85L570.56 251.44L570.91 251.85L571.26 252.99L571.61 254.65L571.96 256.49L572.31 258.15L572.66 259.30L573.01 259.71L573.36 259.30L573.71 258.15L574.06 256.49L574.41 254.65L574.76 252.99L575.11 251.85L575.45 251.44L575.80 251.86L576.15 253.06L576.50 254.80L576.85 256.72L577.20 258.46L577.55 259.66L577.90 260.09L578.25 259.65L578.60 258.42L578.95 256.65L579.30 254.68L579.65 252.91L580.00 251.69L580.34 251.25L580.69 251.67L581.04 252.84L581.39 254.54L581.74 256.42L582.09 258.12L582.44 259.29L582.79 259.71L583.14 259.26L583.49 258.01L583.84 256.20L584.19 254.19L584.54 252.38L584.89 251.13L585.24 250.68L585.61 251.35L585.99 253.18L586.36 255.67L586.74 258.16L587.12 259.98L587.49 260.65L587.84 260.20L588.19 258.92L588.54 257.07L588.89 255.02L589.24 253.17L589.59 251.89L589.94 251.44L590.29 251.80L590.64 252.82L590.99 254.29L591.33 255.92L591.68 257.39L592.03 258.41L592.38 258.77L592.76 258.36L593.13 257.22L593.51 255.67L593.89 254.12L594.26 252.98L594.64 252.56L595.02 252.81L595.39 253.48L595.77 254.47L596.14 255.55L596.52 256.53L596.90 257.21L597.27 257.45L597.65 257.29L598.03 256.82L598.40 256.14L598.78 255.39L599.15 254.71L599.53 254.24L599.91 254.07L600.28 254.18L600.66 254.49L601.03 254.95L601.41 255.45L601.79 255.90L602.16 256.21L602.54 256.33L602.89 256.23L603.24 255.97L603.59 255.59L603.94 255.18L604.29 254.80L604.64 254.54L604.98 254.45L605.33 254.57L605.68 254.91L606.03 255.40L606.38 255.94L606.73 256.43L607.08 256.77L607.43 256.89L607.81 256.68L608.18 256.09L608.56 255.29L608.93 254.49L609.31 253.91L609.69 253.69L610.04 253.88L610.39 254.40L610.73 255.16L611.08 255.99L611.43 256.75L611.78 257.27L612.13 257.45L612.51 257.16L612.88 256.37L613.26 255.29L613.64 254.21L614.01 253.42L614.39 253.13L614.74 253.36L615.09 254.01L615.44 254.96L615.79 256.00L616.14 256.95L616.48 257.60L616.83 257.83L617.21 257.45L617.59 256.42L617.96 255.01L618.34 253.60L618.71 252.57L619.09 252.19L619.47 252.63L619.84 253.83L620.22 255.48L620.60 257.13L620.97 258.33L621.35 258.77L621.69 258.23L622.04 256.75L622.38 254.73L622.73 252.71L623.07 251.23L623.42 250.68L623.79 251.55L624.17 253.80L624.55 256.59L624.92 258.85L625.30 259.71L625.64 258.96L625.97 256.98L626.31 254.54L626.65 252.57L626.99 251.81L627.37 252.69L627.74 254.82L628.12 256.95L628.50 257.83L628.86 257.56L629.23 256.80L629.60 255.78L629.96 254.75L630.33 254.00L630.70 253.73L631.06 253.94L631.43 254.52L631.80 255.32L632.16 256.12L632.53 256.70L632.90 256.92L633.26 256.75L633.63 256.29L634.00 255.66L634.36 255.04L634.73 254.58L635.10 254.41" fill="none" stroke="#ff0000" stroke-width="1.5" stroke-linejoin="round"/>
<path d="M78.4 255.55H628.3" stroke="#000" stroke-width="1"/></g>
<rect x="78.40" y="196.80" width="549.90" height="117.50" fill="none" stroke="#000" stroke-width="1.5"/>
<path d="M78.40 196.80h5M628.30 196.80h-5M78.40 226.18h5M628.30 226.18h-5M78.40 255.55h5M628.30 255.55h-5M78.40 284.93h5M628.30 284.93h-5M78.40 314.30h5M628.30 314.30h-5" stroke="#000" stroke-width="1.1" fill="none"/>
<path d="M78.40 314.30v-5M78.40 196.80v5M188.38 314.30v-5M188.38 196.80v5M298.36 314.30v-5M298.36 196.80v5M408.34 314.30v-5M408.34 196.80v5M518.32 314.30v-5M518.32 196.80v5M628.30 314.30v-5M628.30 196.80v5" stroke="#000" stroke-width="1.1" fill="none"/>
<path d="M100.40 314.30v-2.5M100.40 196.80v2.5M122.39 314.30v-2.5M122.39 196.80v2.5M144.39 314.30v-2.5M144.39 196.80v2.5M166.38 314.30v-2.5M166.38 196.80v2.5M210.38 314.30v-2.5M210.38 196.80v2.5M232.37 314.30v-2.5M232.37 196.80v2.5M254.37 314.30v-2.5M254.37 196.80v2.5M276.36 314.30v-2.5M276.36 196.80v2.5M320.36 314.30v-2.5M320.36 196.80v2.5M342.35 314.30v-2.5M342.35 196.80v2.5M364.35 314.30v-2.5M364.35 196.80v2.5M386.34 314.30v-2.5M386.34 196.80v2.5M430.34 314.30v-2.5M430.34 196.80v2.5M452.33 314.30v-2.5M452.33 196.80v2.5M474.33 314.30v-2.5M474.33 196.80v2.5M496.32 314.30v-2.5M496.32 196.80v2.5M540.32 314.30v-2.5M540.32 196.80v2.5M562.31 314.30v-2.5M562.31 196.80v2.5M584.31 314.30v-2.5M584.31 196.80v2.5M606.30 314.30v-2.5M606.30 196.80v2.5" stroke="#000" stroke-width="1.1" fill="none"/>
<text x="78.40" y="332.20" font-size="16.4" text-anchor="middle" fill="#000" stroke="#000" >−5</text>
<text x="188.38" y="332.20" font-size="16.4" text-anchor="middle" fill="#000" stroke="#000" >0</text>
<text x="298.36" y="332.20" font-size="16.4" text-anchor="middle" fill="#000" stroke="#000" >5</text>
<text x="408.34" y="332.20" font-size="16.4" text-anchor="middle" fill="#000" stroke="#000" >10</text>
<text x="518.32" y="332.20" font-size="16.4" text-anchor="middle" fill="#000" stroke="#000" >15</text>
<text x="628.30" y="332.20" font-size="16.4" text-anchor="middle" fill="#000" stroke="#000" >20</text>
<text x="353.35" y="355.20" font-size="16.4" text-anchor="middle" fill="#000" stroke="#000" >Lapse Time[s]</text>
<text x="72.10" y="201.40" font-size="16.4" text-anchor="end" fill="#000" stroke="#000" >2</text>
<text x="72.10" y="230.78" font-size="16.4" text-anchor="end" fill="#000" stroke="#000" >1</text>
<text x="72.10" y="260.15" font-size="16.4" text-anchor="end" fill="#000" stroke="#000" >0</text>
<text x="72.10" y="289.53" font-size="16.4" text-anchor="end" fill="#000" stroke="#000" >−1</text>
<text x="72.10" y="318.90" font-size="16.4" text-anchor="end" fill="#000" stroke="#000" >−2</text>
<text transform="translate(38.00 255.55) rotate(-90)" font-size="16.4" text-anchor="middle" fill="#000" stroke="#000">Amplitude[m/s]</text>
<text x="78.90" y="192.30" font-size="16.4" fill="#000" stroke="#000">×10<tspan dy="-7.3" font-size="11.81">−6</tspan></text>
<text x="119.00" y="210.80" font-size="16.4" text-anchor="start" fill="#ff0000" stroke="#ff0000" >2012</text>
<text x="89.50" y="305.20" font-size="16.4" text-anchor="start" fill="#000" stroke="#000" word-spacing="-1.6">KOME V.SFT2 UD</text>
<text x="612.00" y="210.80" font-size="16.4" text-anchor="end" fill="#000" stroke="#000" >CC: 0.925</text>
<path d="M78.4 402.83H628.3M78.4 442.07H628.3M188.38 363.6V481.3M298.36 363.6V481.3M408.34 363.6V481.3M518.32 363.6V481.3" stroke="#000" stroke-width="1.15" stroke-dasharray="1.7 3.8" stroke-dashoffset="1" fill="none"/>
<clipPath id="c3"><rect x="78.4" y="363.6" width="549.9" height="117.69999999999999"/></clipPath>
<path d="M209.50 370.20h13M216.00 363.70v13M216.40 374.90h13M222.90 368.40v13M223.80 385.80h13M230.30 379.30v13M230.70 375.90h13M237.20 369.40v13M244.80 380.20h13M251.30 373.70v13M251.80 376.80h13M258.30 370.30v13M258.90 380.60h13M265.40 374.10v13M266.30 378.70h13M272.80 372.20v13M273.20 384.00h13M279.70 377.50v13M280.00 425.10h13M286.50 418.60v13M294.40 379.30h13M300.90 372.80v13M301.40 376.80h13M307.90 370.30v13M308.40 376.80h13M314.90 370.30v13M315.50 374.60h13M322.00 368.10v13M322.50 374.60h13M329.00 368.10v13M329.40 379.60h13M335.90 373.10v13M336.40 377.70h13M342.90 371.20v13M343.30 382.40h13M349.80 375.90v13M350.50 376.40h13M357.00 369.90v13M357.40 378.30h13M363.90 371.80v13M364.60 384.00h13M371.10 377.50v13M371.60 396.60h13M378.10 390.10v13M378.70 411.20h13M385.20 404.70v13M385.70 383.40h13M392.20 376.90v13M392.60 380.90h13M399.10 374.40v13M399.80 375.90h13M406.30 369.40v13M406.70 378.00h13M413.20 371.50v13M413.90 401.60h13M420.40 395.10v13M421.00 395.10h13M427.50 388.60v13M427.90 407.80h13M434.40 401.30v13M435.10 426.60h13M441.60 420.10v13M442.10 415.40h13M448.60 408.90v13M449.00 435.70h13M455.50 429.20v13M456.20 453.50h13M462.70 447.00v13M463.10 445.50h13M469.60 439.00v13M498.50 476.90h13M505.00 470.40v13M505.40 408.80h13M511.90 402.30v13M512.30 415.40h13M518.80 408.90v13M519.50 429.10h13M526.00 422.60v13M568.70 441.10h13M575.20 434.60v13M575.60 385.30h13M582.10 378.80v13M582.80 396.00h13M589.30 389.50v13M589.70 424.80h13M596.20 418.30v13" stroke="#000" stroke-width="1.35" fill="none" clip-path="url(#c3)"/>
<rect x="78.40" y="363.60" width="549.90" height="117.70" fill="none" stroke="#000" stroke-width="1.5"/>
<path d="M78.40 363.60h5M628.30 363.60h-5M78.40 402.83h5M628.30 402.83h-5M78.40 442.07h5M628.30 442.07h-5M78.40 481.30h5M628.30 481.30h-5" stroke="#000" stroke-width="1.1" fill="none"/>
<path d="M78.40 481.30v-5M78.40 363.60v5M188.38 481.30v-5M188.38 363.60v5M298.36 481.30v-5M298.36 363.60v5M408.34 481.30v-5M408.34 363.60v5M518.32 481.30v-5M518.32 363.60v5M628.30 481.30v-5M628.30 363.60v5" stroke="#000" stroke-width="1.1" fill="none"/>
<path d="M100.40 481.30v-2.5M100.40 363.60v2.5M122.39 481.30v-2.5M122.39 363.60v2.5M144.39 481.30v-2.5M144.39 363.60v2.5M166.38 481.30v-2.5M166.38 363.60v2.5M210.38 481.30v-2.5M210.38 363.60v2.5M232.37 481.30v-2.5M232.37 363.60v2.5M254.37 481.30v-2.5M254.37 363.60v2.5M276.36 481.30v-2.5M276.36 363.60v2.5M320.36 481.30v-2.5M320.36 363.60v2.5M342.35 481.30v-2.5M342.35 363.60v2.5M364.35 481.30v-2.5M364.35 363.60v2.5M386.34 481.30v-2.5M386.34 363.60v2.5M430.34 481.30v-2.5M430.34 363.60v2.5M452.33 481.30v-2.5M452.33 363.60v2.5M474.33 481.30v-2.5M474.33 363.60v2.5M496.32 481.30v-2.5M496.32 363.60v2.5M540.32 481.30v-2.5M540.32 363.60v2.5M562.31 481.30v-2.5M562.31 363.60v2.5M584.31 481.30v-2.5M584.31 363.60v2.5M606.30 481.30v-2.5M606.30 363.60v2.5" stroke="#000" stroke-width="1.1" fill="none"/>
<text x="78.40" y="499.20" font-size="16.4" text-anchor="middle" fill="#000" stroke="#000" >−5</text>
<text x="188.38" y="499.20" font-size="16.4" text-anchor="middle" fill="#000" stroke="#000" >0</text>
<text x="298.36" y="499.20" font-size="16.4" text-anchor="middle" fill="#000" stroke="#000" >5</text>
<text x="408.34" y="499.20" font-size="16.4" text-anchor="middle" fill="#000" stroke="#000" >10</text>
<text x="518.32" y="499.20" font-size="16.4" text-anchor="middle" fill="#000" stroke="#000" >15</text>
<text x="628.30" y="499.20" font-size="16.4" text-anchor="middle" fill="#000" stroke="#000" >20</text>
<text x="353.35" y="522.20" font-size="16.4" text-anchor="middle" fill="#000" stroke="#000" >Lapse Time[s]</text>
<text x="72.10" y="368.20" font-size="16.4" text-anchor="end" fill="#000" stroke="#000" >1.0</text>
<text x="72.10" y="407.43" font-size="16.4" text-anchor="end" fill="#000" stroke="#000" >0.9</text>
<text x="72.10" y="446.67" font-size="16.4" text-anchor="end" fill="#000" stroke="#000" >0.8</text>
<text x="72.10" y="485.90" font-size="16.4" text-anchor="end" fill="#000" stroke="#000" >0.7</text>
<text transform="translate(36.50 422.45) rotate(-90)" font-size="16.4" text-anchor="middle" fill="#000" stroke="#000">Coherence</text>
<path d="M78.4 614.15H628.3" stroke="#000" stroke-width="1.15"/>
<path d="M216.30 621.76V626.65M212.50 621.76h7.6M212.50 626.65h7.6M223.26 621.38V625.14M219.46 621.38h7.6M219.46 625.14h7.6M230.22 621.94V625.71M226.42 621.94h7.6M226.42 625.71h7.6M237.37 616.11V619.12M233.57 616.11h7.6M233.57 619.12h7.6M251.47 612.35V614.61M247.67 612.35h7.6M247.67 614.61h7.6M258.43 611.79V614.04M254.63 611.79h7.6M254.63 614.04h7.6M265.58 608.97V611.22M261.78 608.97h7.6M261.78 611.22h7.6M272.54 609.53V611.79M268.74 609.53h7.6M268.74 611.79h7.6M279.69 608.59V610.85M275.89 608.59h7.6M275.89 610.85h7.6M286.65 610.47V612.73M282.85 610.47h7.6M282.85 612.73h7.6M300.91 614.42V617.05M297.11 614.42h7.6M297.11 617.05h7.6M307.87 618.56V622.32M304.07 618.56h7.6M304.07 622.32h7.6M314.83 620.06V626.65M311.03 620.06h7.6M311.03 626.65h7.6M321.97 621.76V628.90M318.17 621.76h7.6M318.17 628.90h7.6M328.93 623.26V633.98M325.13 623.26h7.6M325.13 633.98h7.6M336.08 627.02V638.31M332.28 627.02h7.6M332.28 638.31h7.6M343.04 627.02V636.05M339.24 627.02h7.6M339.24 636.05h7.6M350.19 623.82V636.43M346.39 623.82h7.6M346.39 636.43h7.6M357.15 624.76V630.41M353.35 624.76h7.6M353.35 630.41h7.6M364.11 623.26V627.02M360.31 623.26h7.6M360.31 627.02h7.6M371.07 624.20V627.21M367.27 624.20h7.6M367.27 627.21h7.6M378.40 628.34V631.35M374.60 628.34h7.6M374.60 631.35h7.6M385.36 623.26V626.27M381.56 623.26h7.6M381.56 626.27h7.6M392.51 620.44V623.07M388.71 620.44h7.6M388.71 623.07h7.6M399.47 619.12V621.76M395.67 619.12h7.6M395.67 621.76h7.6M406.43 619.12V621.76M402.63 619.12h7.6M402.63 621.76h7.6M413.35 621.00V623.64M409.55 621.00h7.6M409.55 623.64h7.6M420.31 627.96V631.72M416.51 627.96h7.6M416.51 631.72h7.6M427.46 624.76V634.17M423.66 624.76h7.6M423.66 634.17h7.6M434.42 626.46V636.05M430.62 626.46h7.6M430.62 636.05h7.6M441.57 619.12V633.23M437.77 619.12h7.6M437.77 633.23h7.6M448.53 635.86V655.24M444.73 635.86h7.6M444.73 655.24h7.6M455.67 639.81V646.21M451.87 639.81h7.6M451.87 646.21h7.6M462.63 635.49V639.25M458.83 635.49h7.6M458.83 639.25h7.6M469.78 626.65V639.25M465.98 626.65h7.6M465.98 639.25h7.6M504.95 629.84V647.15M501.15 629.84h7.6M501.15 647.15h7.6M511.91 627.96V646.21M508.11 627.96h7.6M508.11 646.21h7.6M518.76 631.72V640.19M514.96 631.72h7.6M514.96 640.19h7.6M525.91 644.51V653.35M522.11 644.51h7.6M522.11 653.35h7.6M575.19 651.47V672.16M571.39 651.47h7.6M571.39 672.16h7.6M582.34 642.63V665.02M578.54 642.63h7.6M578.54 665.02h7.6M589.29 637.37V658.06M585.49 637.37h7.6M585.49 658.06h7.6M596.25 640.56V661.25M592.45 640.56h7.6M592.45 661.25h7.6" stroke="#000" stroke-width="1.3" fill="none"/>
<circle cx="216.30" cy="624.20" r="2.95" fill="#008000" stroke="#000" stroke-width="0.9"/>
<circle cx="223.26" cy="623.26" r="2.95" fill="#008000" stroke="#000" stroke-width="0.9"/>
<circle cx="230.22" cy="623.82" r="2.95" fill="#008000" stroke="#000" stroke-width="0.9"/>
<circle cx="237.37" cy="617.62" r="2.95" fill="#008000" stroke="#000" stroke-width="0.9"/>
<circle cx="251.47" cy="613.48" r="2.95" fill="#008000" stroke="#000" stroke-width="0.9"/>
<circle cx="258.43" cy="612.92" r="2.95" fill="#008000" stroke="#000" stroke-width="0.9"/>
<circle cx="265.58" cy="610.09" r="2.95" fill="#008000" stroke="#000" stroke-width="0.9"/>
<circle cx="272.54" cy="610.66" r="2.95" fill="#008000" stroke="#000" stroke-width="0.9"/>
<circle cx="279.69" cy="609.72" r="2.95" fill="#008000" stroke="#000" stroke-width="0.9"/>
<circle cx="286.65" cy="611.60" r="2.95" fill="#008000" stroke="#000" stroke-width="0.9"/>
<circle cx="300.91" cy="615.74" r="2.95" fill="#008000" stroke="#000" stroke-width="0.9"/>
<circle cx="307.87" cy="620.44" r="2.95" fill="#008000" stroke="#000" stroke-width="0.9"/>
<circle cx="314.83" cy="623.26" r="2.95" fill="#008000" stroke="#000" stroke-width="0.9"/>
<circle cx="321.97" cy="625.14" r="2.95" fill="#008000" stroke="#000" stroke-width="0.9"/>
<circle cx="328.93" cy="628.53" r="2.95" fill="#008000" stroke="#000" stroke-width="0.9"/>
<circle cx="336.08" cy="632.66" r="2.95" fill="#008000" stroke="#000" stroke-width="0.9"/>
<circle cx="343.04" cy="631.35" r="2.95" fill="#008000" stroke="#000" stroke-width="0.9"/>
<circle cx="350.19" cy="629.84" r="2.95" fill="#008000" stroke="#000" stroke-width="0.9"/>
<circle cx="357.15" cy="627.40" r="2.95" fill="#008000" stroke="#000" stroke-width="0.9"/>
<circle cx="364.11" cy="625.14" r="2.95" fill="#008000" stroke="#000" stroke-width="0.9"/>
<circle cx="371.07" cy="625.71" r="2.95" fill="#008000" stroke="#000" stroke-width="0.9"/>
<circle cx="378.40" cy="629.84" r="2.95" fill="#008000" stroke="#000" stroke-width="0.9"/>
<circle cx="385.36" cy="624.76" r="2.95" fill="#008000" stroke="#000" stroke-width="0.9"/>
<circle cx="392.51" cy="621.76" r="2.95" fill="#008000" stroke="#000" stroke-width="0.9"/>
<circle cx="399.47" cy="620.44" r="2.95" fill="#008000" stroke="#000" stroke-width="0.9"/>
<circle cx="406.43" cy="620.44" r="2.95" fill="#008000" stroke="#000" stroke-width="0.9"/>
<circle cx="413.35" cy="622.32" r="2.95" fill="#008000" stroke="#000" stroke-width="0.9"/>
<circle cx="420.31" cy="629.84" r="2.95" fill="#008000" stroke="#000" stroke-width="0.9"/>
<circle cx="427.46" cy="629.28" r="2.95" fill="#008000" stroke="#000" stroke-width="0.9"/>
<circle cx="434.42" cy="631.16" r="2.95" fill="#008000" stroke="#000" stroke-width="0.9"/>
<circle cx="441.57" cy="626.08" r="2.95" fill="#008000" stroke="#000" stroke-width="0.9"/>
<circle cx="448.53" cy="645.45" r="2.95" fill="#008000" stroke="#000" stroke-width="0.9"/>
<circle cx="455.67" cy="643.01" r="2.95" fill="#008000" stroke="#000" stroke-width="0.9"/>
<circle cx="462.63" cy="637.37" r="2.95" fill="#008000" stroke="#000" stroke-width="0.9"/>
<circle cx="469.78" cy="633.04" r="2.95" fill="#008000" stroke="#000" stroke-width="0.9"/>
<circle cx="504.95" cy="638.68" r="2.95" fill="#008000" stroke="#000" stroke-width="0.9"/>
<circle cx="511.91" cy="636.99" r="2.95" fill="#008000" stroke="#000" stroke-width="0.9"/>
<circle cx="518.76" cy="635.86" r="2.95" fill="#008000" stroke="#000" stroke-width="0.9"/>
<circle cx="525.91" cy="649.03" r="2.95" fill="#008000" stroke="#000" stroke-width="0.9"/>
<circle cx="575.19" cy="661.82" r="2.95" fill="#008000" stroke="#000" stroke-width="0.9"/>
<circle cx="582.34" cy="653.92" r="2.95" fill="#008000" stroke="#000" stroke-width="0.9"/>
<circle cx="589.29" cy="648.09" r="2.95" fill="#008000" stroke="#000" stroke-width="0.9"/>
<circle cx="596.25" cy="650.91" r="2.95" fill="#008000" stroke="#000" stroke-width="0.9"/>
<path d="M188.38 614.25L408.34 623.85" stroke="#ff0000" stroke-width="2.7" fill="none"/>
<rect x="78.40" y="540.60" width="549.90" height="147.30" fill="none" stroke="#000" stroke-width="1.5"/>
<path d="M78.40 555.33h5M628.30 555.33h-5M78.40 584.79h5M628.30 584.79h-5M78.40 614.25h5M628.30 614.25h-5M78.40 643.71h5M628.30 643.71h-5M78.40 673.17h5M628.30 673.17h-5" stroke="#000" stroke-width="1.1" fill="none"/>
<path d="M78.40 687.90v-5M78.40 540.60v5M188.38 687.90v-5M188.38 540.60v5M298.36 687.90v-5M298.36 540.60v5M408.34 687.90v-5M408.34 540.60v5M518.32 687.90v-5M518.32 540.60v5M628.30 687.90v-5M628.30 540.60v5" stroke="#000" stroke-width="1.1" fill="none"/>
<path d="M100.40 687.90v-2.5M100.40 540.60v2.5M122.39 687.90v-2.5M122.39 540.60v2.5M144.39 687.90v-2.5M144.39 540.60v2.5M166.38 687.90v-2.5M166.38 540.60v2.5M210.38 687.90v-2.5M210.38 540.60v2.5M232.37 687.90v-2.5M232.37 540.60v2.5M254.37 687.90v-2.5M254.37 540.60v2.5M276.36 687.90v-2.5M276.36 540.60v2.5M320.36 687.90v-2.5M320.36 540.60v2.5M342.35 687.90v-2.5M342.35 540.60v2.5M364.35 687.90v-2.5M364.35 540.60v2.5M386.34 687.90v-2.5M386.34 540.60v2.5M430.34 687.90v-2.5M430.34 540.60v2.5M452.33 687.90v-2.5M452.33 540.60v2.5M474.33 687.90v-2.5M474.33 540.60v2.5M496.32 687.90v-2.5M496.32 540.60v2.5M540.32 687.90v-2.5M540.32 540.60v2.5M562.31 687.90v-2.5M562.31 540.60v2.5M584.31 687.90v-2.5M584.31 540.60v2.5M606.30 687.90v-2.5M606.30 540.60v2.5" stroke="#000" stroke-width="1.1" fill="none"/>
<text x="78.40" y="705.80" font-size="16.4" text-anchor="middle" fill="#000" stroke="#000" >−5</text>
<text x="188.38" y="705.80" font-size="16.4" text-anchor="middle" fill="#000" stroke="#000" >0</text>
<text x="298.36" y="705.80" font-size="16.4" text-anchor="middle" fill="#000" stroke="#000" >5</text>
<text x="408.34" y="705.80" font-size="16.4" text-anchor="middle" fill="#000" stroke="#000" >10</text>
<text x="518.32" y="705.80" font-size="16.4" text-anchor="middle" fill="#000" stroke="#000" >15</text>
<text x="628.30" y="705.80" font-size="16.4" text-anchor="middle" fill="#000" stroke="#000" >20</text>
<text x="353.35" y="728.80" font-size="16.4" text-anchor="middle" fill="#000" stroke="#000" >Lapse Time[s]</text>
<text x="72.10" y="559.93" font-size="16.4" text-anchor="end" fill="#000" stroke="#000" >0.04</text>
<text x="72.10" y="589.39" font-size="16.4" text-anchor="end" fill="#000" stroke="#000" >0.02</text>
<text x="72.10" y="618.85" font-size="16.4" text-anchor="end" fill="#000" stroke="#000" >0.00</text>
<text x="72.10" y="648.31" font-size="16.4" text-anchor="end" fill="#000" stroke="#000" >−0.02</text>
<text x="72.10" y="677.77" font-size="16.4" text-anchor="end" fill="#000" stroke="#000" >−0.04</text>
<text transform="translate(13.00 614.25) rotate(-90)" font-size="16.4" text-anchor="middle" fill="#000" stroke="#000">Delay Time[s]</text>
<text x="600.50" y="566.00" font-size="16.4" text-anchor="end" fill="#000" stroke="#000" >dt/t = -0.065±0.019[%]</text>
<clipPath id="c5"><rect x="78.2" y="746.8" width="196.40000000000003" height="147.20000000000005"/></clipPath>
<g clip-path="url(#c5)" fill="none" stroke-width="1.75" stroke-linejoin="round"><path d="M71.29 816.82L78.24 816.82L97.05 816.82L112.10 827.16L120.56 817.19L126.77 832.43L131.47 816.82L135.24 820.02L138.06 810.24L142.76 808.35L146.52 803.65L149.34 804.97L151.22 803.09L153.48 806.47L155.92 798.95L159.69 794.81L161.57 798.95L163.45 810.24L165.33 800.83L168.15 809.29L170.97 798.95L173.79 783.90L177.55 777.32L177.93 780.27L178.41 780.63L178.87 788.03L179.33 781.21L179.78 785.70L180.22 782.27L180.65 784.81L181.07 786.48L181.49 791.43L181.90 785.31L182.29 783.35L182.68 783.24L183.07 780.39L183.45 781.12L183.82 784.34L184.18 787.14L184.54 782.51L184.89 781.19L185.24 794.77L185.58 781.06L185.92 779.83L186.25 780.50L186.57 781.02L186.89 784.76L187.21 783.60L187.52 782.71L187.83 781.51L188.13 783.96L188.43 784.22L188.72 773.72L189.01 773.76L189.30 781.11L189.58 782.24L189.86 782.45L190.13 787.71L190.41 784.07L190.67 779.10L190.94 786.34L191.20 794.58L191.46 783.32L191.72 785.63L191.97 788.35L192.22 809.88L192.46 779.08L192.71 777.52L192.95 784.91L193.19 780.26L193.42 791.60L193.66 788.91L193.89 788.43L194.11 794.66L194.34 783.39L194.56 779.60L194.78 791.53L195.00 778.03L195.22 781.50L195.43 780.12L195.65 784.36L195.86 805.55L196.06 782.67L196.27 780.73L196.47 787.78L196.68 783.42L196.88 781.19L197.07 781.58L197.27 799.12L197.47 788.50L197.66 784.55L197.85 780.70L198.04 785.71L198.23 780.97L198.41 781.79L198.60 788.83L198.78 781.27L198.96 786.29L199.14 784.70L199.32 775.13L199.50 772.53L199.67 775.08L199.85 780.86L200.02 774.66L200.19 781.86L200.36 778.78L200.53 779.93L200.70 775.04L200.86 779.14L201.03 777.24L201.19 775.84L201.35 776.01L201.51 771.36L201.67 768.45L201.83 770.42L201.99 775.20L202.15 771.98L202.30 770.96L202.46 772.24L202.61 773.89L202.76 776.44L202.91 786.11L203.06 777.44L203.21 780.31L203.36 783.52L203.50 779.22L203.65 778.38L203.79 779.46L203.94 780.09L204.08 777.99L204.22 777.19L204.36 789.16L204.50 781.92L204.64 777.21L204.78 776.85L204.92 775.12L205.05 774.45L205.19 777.75L205.32 791.59L205.46 784.42L205.59 783.71L205.72 776.05L205.85 776.06L205.98 783.99L206.11 785.66L206.24 779.14L206.37 777.81L206.50 782.19L206.62 779.92L206.75 779.32L206.87 782.21L207.00 783.39L207.12 778.71L207.24 781.97L207.37 792.49L207.49 783.34L207.61 785.63L207.73 785.99L207.85 787.38L207.97 792.53L208.09 791.38L208.20 781.77L208.32 779.13L208.44 782.47L208.55 780.56L208.67 780.21L208.78 783.25L208.89 780.60L209.01 781.58L209.12 787.93L209.23 789.84L209.34 788.98L209.45 786.78L209.56 789.81L209.67 783.88L209.78 787.62L209.89 793.20L210.00 784.24L210.11 788.89L210.21 788.77L210.32 785.88L210.43 781.70L210.53 780.25L210.64 783.45L210.74 793.07L210.84 793.37L210.95 788.87L211.05 791.49L211.15 787.27L211.25 785.04L211.36 791.70L211.46 786.64L211.56 786.14L211.66 791.52L211.76 785.99L211.85 786.23L211.95 794.41L212.05 794.02L212.15 791.77L212.25 787.01L212.34 783.55L212.44 786.61L212.53 794.07L212.63 782.30L212.73 784.23L212.82 788.74L212.91 787.81L213.01 781.81L213.10 790.30L213.19 792.65L213.29 794.65L213.38 788.26L213.47 788.40L213.56 782.65L213.65 781.23L213.74 785.05L213.83 794.91L213.92 799.93L214.01 801.90L214.10 789.65L214.19 788.34L214.28 786.24L214.37 784.83L214.45 791.11L214.54 783.17L214.63 787.25L214.71 798.96L214.80 789.10L214.89 787.20L214.97 792.19L215.06 796.40L215.14 802.63L215.23 791.66L215.31 788.61L215.39 798.49L215.48 796.34L215.56 788.99L215.64 792.76L215.73 786.33L215.81 783.70L215.89 789.40L215.97 792.27L216.05 804.27L216.13 790.78L216.21 799.47L216.29 792.33L216.37 793.88L216.45 799.78L216.53 790.59L216.61 791.89L216.69 788.18L216.77 784.66L216.85 789.39L216.93 792.82L217.00 789.12L217.08 793.51L217.16 788.73L217.24 791.72L217.31 797.30L217.39 794.95L217.46 784.37L217.54 786.99L217.62 795.80L217.69 791.36L217.77 794.55L217.84 793.37L217.92 790.66L217.99 787.13L218.06 788.86L218.14 789.54L218.21 791.02L218.28 794.58L218.36 790.13L218.43 794.35L218.50 789.38L218.57 785.77L218.65 786.97L218.72 787.76L218.79 793.94L218.86 800.09L218.93 789.77L219.00 786.76L219.07 797.83L219.14 789.55L219.21 787.56L219.28 790.52L219.35 795.43L219.42 793.95L219.49 788.46L219.56 788.59L219.63 792.63L219.70 793.68L219.76 796.95L219.83 789.32L219.90 785.74L219.97 786.49L220.04 795.61L220.10 800.38L220.17 793.11L220.24 789.58L220.30 792.78L220.37 792.21L220.43 791.73L220.50 805.27L220.57 789.02L220.63 782.93L220.70 784.17L220.76 790.98L220.83 792.19L220.89 792.29L220.96 802.83L221.02 791.80L221.09 802.51L221.15 788.77L221.21 785.44L221.28 789.89L221.34 791.90L221.40 791.75L221.47 803.60L221.53 795.88L221.59 784.34L221.65 783.02L221.72 786.93L221.78 789.99L221.84 799.50L221.90 791.79L221.96 786.23L222.02 786.20L222.09 784.41L222.15 782.88L222.21 785.40L222.27 786.78L222.33 784.65L222.39 792.33L222.45 796.05L222.51 789.17L222.57 790.35L222.63 788.19L222.69 787.11L222.75 801.63L222.81 795.42L222.87 802.70L222.92 802.08L222.98 797.65L223.04 800.85L223.10 799.30L223.16 798.43L223.22 793.97L223.27 788.95L223.33 791.50L223.39 792.77L223.45 802.88L223.50 789.51L223.56 789.72L223.62 787.48L223.67 793.52L223.73 801.70L223.79 793.73L223.84 792.17L223.90 796.44L223.96 797.40L224.01 790.84L224.07 786.52L224.12 782.86L224.18 785.50L224.23 793.90L224.29 802.17L224.34 790.44L224.40 788.04L224.45 784.55L224.51 783.08L224.56 785.13L224.62 790.11L224.67 798.89L224.73 794.33L224.78 791.35L224.83 797.19L224.89 791.75L224.94 788.30L224.99 791.67L225.05 792.88L225.10 798.91L225.15 805.81L225.21 796.31L225.26 793.82L225.31 794.09L225.36 794.00L225.42 794.29L225.47 792.50L225.52 791.55L225.57 795.73L225.62 791.75L225.68 785.84L225.73 788.48L225.78 793.28L225.83 792.89L225.88 794.85L225.93 792.47L225.98 790.01L226.03 791.37L226.09 796.44L226.14 798.46L226.19 795.81L226.24 793.42L226.29 799.24L226.34 797.94L226.39 798.73L226.44 797.00L226.49 796.24L226.54 798.10L226.59 812.54L226.64 794.74L226.68 790.45L226.73 795.69L226.78 800.84L226.83 803.06L226.88 790.56L226.93 791.25L226.98 793.72L227.03 790.96L227.08 794.38L227.12 786.73L227.17 786.86L227.22 798.15L227.27 797.74L227.32 792.60L227.36 789.04L227.41 788.32L227.46 783.80L227.51 786.77L227.55 790.50L227.60 792.63L227.65 793.39L227.69 796.59L227.74 795.24L227.79 798.73L227.84 788.75L227.88 788.56L227.93 789.41L227.97 794.34L228.02 789.91L228.07 789.16L228.11 797.71L228.16 796.41L228.21 795.30L228.25 796.37L228.30 793.80L228.34 793.63L228.39 804.46L228.43 805.58L228.48 795.25L228.52 794.20L228.57 796.22L228.61 796.52L228.66 796.47L228.70 806.22L228.75 799.27L228.79 800.76L228.84 797.75L228.88 794.35L228.93 791.88L228.97 793.85L229.01 799.68L229.06 806.27L229.10 801.73L229.15 794.16L229.19 793.25L229.23 799.23L229.28 821.30L229.32 801.40L229.37 805.66L229.41 811.85L229.45 799.81L229.50 793.30L229.54 799.11L229.58 796.09L229.62 796.64L229.67 796.67L229.71 797.18L229.75 794.71L229.80 789.56L229.84 787.56L229.88 788.43L229.92 791.85L229.96 793.45L230.01 790.03L230.05 799.41L230.09 787.86L230.13 788.74L230.17 790.33L230.22 784.48L230.26 781.59L230.30 787.65L230.34 797.04L230.38 803.72L230.42 786.42L230.47 785.43L230.51 790.36L230.55 791.47L230.59 794.04L230.63 792.15L230.67 797.54L230.71 793.18L230.75 797.77L230.79 796.96L230.83 796.78L230.87 800.35L230.91 793.30L230.95 791.90L231.00 793.15L231.04 802.84L231.08 794.91L231.12 791.66L231.16 793.34L231.20 802.90L231.24 795.34L231.27 794.39L231.31 801.14L231.35 790.40L231.39 788.93L231.43 791.54L231.47 810.72L231.51 789.99L231.55 791.47L231.59 805.90L231.63 793.04L231.67 794.01L231.71 797.03L231.75 791.12L231.78 796.41L231.82 798.98L231.86 798.39L231.90 796.41L231.94 793.86L231.98 801.43L232.02 794.84L232.05 788.01L232.09 788.79L232.13 797.63L232.17 795.76L232.21 801.01L232.25 797.44L232.28 806.23L232.32 793.49L232.36 793.86L232.40 795.76L232.43 792.09L232.47 791.52L232.51 796.79L232.55 794.95L232.58 798.38L232.62 795.81L232.66 794.56L232.70 795.74L232.73 797.71L232.77 799.89L232.81 792.70L232.84 797.46L232.88 802.62L232.92 802.95L232.95 798.13L232.99 793.03L233.03 793.04L233.06 790.13L233.10 792.09L233.14 804.18L233.17 795.72L233.21 794.38L233.25 794.78L233.28 796.28L233.32 802.67L233.35 804.70L233.39 812.13L233.43 803.85L233.46 798.45L233.50 800.59L233.53 800.93L233.57 797.32L233.60 799.66L233.64 802.62L233.68 794.59L233.71 793.41L233.75 796.26L233.78 801.85L233.82 799.36L233.85 799.90L233.89 796.89L233.92 796.85L233.96 797.96L233.99 803.39L234.03 808.01L234.06 804.98L234.10 802.20L234.13 803.84L234.17 801.69L234.20 804.51L234.24 805.44L234.27 798.76L234.31 800.41L234.34 810.17L234.37 796.15L234.41 790.60L234.44 797.79L234.48 796.79L234.51 803.05L234.54 800.02L234.58 813.57L234.61 799.14L234.65 800.11L234.68 806.93L234.71 798.08L234.75 795.92L234.78 798.28L234.82 801.98L234.85 795.41L234.88 797.27L234.92 800.87L234.95 799.06L234.98 799.01L235.02 801.41L235.05 805.29L235.08 800.35L235.12 799.13L235.15 803.54L235.18 803.20L235.22 814.30L235.25 803.98L235.28 807.00L235.31 799.87L235.35 794.61L235.38 797.22L235.41 812.87L235.45 805.39L235.48 805.25L235.51 804.58L235.54 799.52L235.58 798.74L235.61 798.82L235.64 802.29L235.67 799.83L235.71 801.42L235.74 794.81L235.77 801.49L235.80 806.55L235.83 805.73L235.87 801.53L235.90 802.47L235.93 797.32L235.96 798.42L235.99 811.44L236.03 805.93L236.06 801.78L236.09 807.78L236.12 799.16L236.15 795.05L236.18 798.77L236.22 803.29L236.25 806.07L236.28 812.30L236.31 811.11L236.34 811.59L236.37 803.50L236.40 798.46L236.43 801.30L236.47 796.05L236.50 802.53L236.53 799.88L236.56 798.63L236.59 801.79L236.62 801.04L236.65 808.70L236.68 814.91L236.71 807.92L236.74 806.86L236.77 812.54L236.81 806.44L236.84 805.04L236.87 799.66L236.90 800.88L236.93 804.16L236.96 799.79L236.99 802.52L237.02 801.29L237.05 802.13L237.08 808.45L237.11 813.74L237.14 812.48L237.17 804.41L237.20 801.50L237.23 809.12L237.26 810.90L237.29 803.04L237.32 800.69L237.35 804.86L237.38 806.87L237.41 805.72L237.44 802.71L237.47 807.28L237.50 814.01L237.53 804.32L237.56 805.07L237.59 806.41L237.62 810.95L237.65 824.16L237.68 808.26L237.71 810.60L237.73 816.92L237.76 812.05L237.79 800.89L237.82 797.60L237.85 799.19L237.88 805.69L237.91 806.03L237.94 804.42L237.97 805.52L238.00 801.37L238.03 802.25L238.05 805.52L238.08 805.45L238.11 799.56L238.14 798.47L238.17 804.86L238.20 804.34L238.23 799.65L238.26 802.92L238.28 812.11L238.31 802.82L238.34 822.40L238.37 818.74L238.40 800.57L238.43 799.36L238.46 799.72L238.48 802.56L238.51 804.64L238.54 804.48L238.57 811.94L238.60 806.21L238.62 810.83L238.65 815.18L238.68 817.93L238.71 807.91L238.74 812.28L238.77 810.01L238.79 822.97L238.82 805.88L238.85 802.27L238.88 811.23L238.90 808.02L238.93 807.08L238.96 803.86L238.99 803.33L239.02 806.28L239.04 811.14L239.07 814.60L239.10 825.06L239.13 808.66L239.15 811.48L239.18 810.14L239.21 806.92L239.23 806.94L239.26 804.94L239.29 818.88L239.32 805.83L239.34 806.95L239.37 807.49L239.40 799.45L239.43 797.50L239.45 798.98L239.48 799.80L239.51 798.65L239.53 799.48L239.56 806.47L239.59 801.21L239.61 799.08L239.64 804.51L239.67 803.93L239.69 813.21L239.72 806.38L239.75 809.12L239.77 814.05L239.80 801.99L239.83 801.40L239.85 810.09L239.88 805.57L239.91 804.72L239.93 819.10L239.96 808.00L239.99 811.65L240.01 803.21L240.04 802.58L240.07 807.88L240.09 816.60L240.12 810.16L240.14 809.51L240.17 810.90L240.20 808.40L240.22 803.40L240.25 808.50L240.28 811.46L240.30 805.04L240.33 809.28L240.35 815.69L240.38 810.00L240.41 806.03L240.43 802.33L240.46 806.67L240.48 821.54L240.51 808.24L240.53 803.47L240.56 802.55L240.59 802.75L240.61 810.08L240.64 807.49L240.66 801.08L240.69 799.87L240.71 810.11L240.74 808.88L240.76 807.64L240.79 798.21L240.82 799.73L240.84 810.85L240.87 806.09L240.89 804.24L240.92 802.21L240.94 797.43L240.97 802.15L240.99 804.88L241.02 812.77L241.04 808.10L241.07 804.57L241.09 799.27L241.12 802.68L241.14 810.20L241.17 814.15L241.19 813.61L241.22 805.88L241.24 811.27L241.27 808.90L241.29 805.36L241.32 803.30L241.34 805.06L241.37 813.94L241.39 807.10L241.42 809.18L241.44 805.92L241.47 802.22L241.49 801.93L241.51 803.53L241.54 815.79L241.56 819.25L241.59 814.73L241.61 811.05L241.64 806.46L241.66 801.19L241.69 805.04L241.71 807.49L241.73 815.47L241.76 814.80L241.78 813.11L241.81 808.65L241.83 807.86L241.86 812.69L241.88 817.80L241.90 808.47L241.93 804.62L241.95 808.36L241.98 805.30L242.00 804.93L242.02 820.34L242.05 817.06L242.07 818.32L242.10 820.05L242.12 819.51L242.14 822.74L242.17 830.86L242.19 808.65L242.22 805.00L242.24 807.90L242.26 805.38L242.29 807.08L242.31 815.69L242.33 809.16L242.36 816.40L242.38 815.31L242.40 813.44L242.43 813.53L242.45 815.71L242.48 816.07L242.50 818.17L242.52 811.79L242.55 810.41L242.57 812.56L242.59 815.41L242.62 821.87L242.64 814.36L242.66 812.60L242.69 815.30L242.71 810.06L242.73 812.48L242.76 805.36L242.78 806.82L242.80 812.39L242.82 819.08L242.85 810.68L242.87 810.66L242.89 813.76L242.92 819.66L242.94 816.35L242.96 810.97L242.99 815.12L243.01 813.91L243.03 809.73L243.05 815.95L243.08 812.53L243.10 807.31L243.12 812.18L243.15 810.72L243.17 813.74L243.19 821.24L243.21 809.70L243.24 810.15L243.26 815.11L243.28 813.27L243.30 810.62L243.33 814.20L243.35 811.00L243.37 815.55L243.39 807.55L243.42 811.23L243.44 816.27L243.46 813.58L243.48 817.45L243.51 817.94L243.53 812.92L243.55 824.56L243.57 828.24L243.60 815.81L243.62 813.36L243.64 817.44L243.66 818.31L243.68 812.23L243.71 812.01L243.73 809.34L243.75 809.39L243.77 813.11L243.80 815.45L243.82 819.45L243.84 818.23L243.86 813.94L243.88 822.66L243.91 813.69L243.93 809.82L243.95 811.45L243.97 822.79L243.99 819.45L244.02 820.94L244.04 819.96L244.06 815.28L244.08 812.29L244.10 810.82L244.12 824.27L244.15 817.54L244.17 820.07L244.19 809.01L244.21 806.49L244.23 808.09L244.25 810.64L244.28 815.43L244.30 819.21L244.32 815.66L244.34 813.28L244.36 817.80L244.38 814.16L244.40 818.44L244.43 828.55L244.45 815.88L244.47 809.90L244.49 812.61L244.51 821.13L244.53 824.53L244.55 824.03L244.58 819.59L244.60 814.86L244.62 813.19L244.64 813.62L244.66 817.38L244.68 814.54L244.70 817.43L244.72 815.52L244.75 813.39L244.77 813.55L244.79 813.78L244.81 813.50L244.83 821.55L244.85 824.26L244.87 832.80L244.89 818.69L244.91 822.63L244.93 822.39L244.96 815.40L244.98 818.69L245.00 839.93L245.02 834.19L245.04 828.03L245.06 822.48L245.08 828.80L245.10 819.73L245.12 830.04L245.14 818.02L245.16 813.71L245.18 816.12L245.20 823.48L245.23 826.61L245.25 819.99L245.27 819.77L245.29 819.44L245.31 819.46L245.33 822.50L245.35 820.71L245.37 817.62L245.39 818.25L245.41 820.40L245.43 818.89L245.45 816.29L245.47 820.21L245.49 824.32L245.51 818.93L245.53 817.85L245.55 819.13L245.57 820.29L245.59 818.53L245.61 818.04L245.63 819.86L245.65 822.47L245.67 819.34L245.70 822.24L245.72 818.45L245.74 810.80L245.76 813.06L245.78 826.75L245.80 817.54L245.82 813.82L245.84 817.21L245.86 822.23L245.88 823.68L245.90 829.10L245.92 828.72L245.94 818.94L245.96 814.67L245.98 815.16L246.00 808.91L246.02 811.71L246.04 830.12L246.06 820.34L246.08 831.65L246.10 818.19L246.11 819.58L246.13 819.02L246.15 814.19L246.17 813.90L246.19 813.16L246.21 815.92L246.23 823.28L246.25 824.24L246.27 825.39L246.29 823.89L246.31 817.82L246.33 816.69L246.35 822.78L246.37 821.61L246.39 825.15L246.41 821.44L246.43 820.27L246.45 819.97L246.47 819.45L246.49 822.03L246.51 825.07L246.53 816.26L246.55 812.69L246.57 817.61L246.58 816.85L246.60 812.96L246.62 813.22L246.64 818.25L246.66 833.45L246.68 823.56L246.70 824.05L246.72 818.99L246.74 820.09L246.76 818.57L246.78 821.03L246.80 817.04L246.82 818.27L246.84 817.28L246.85 827.69L246.87 822.05L246.89 814.26L246.91 812.89L246.93 823.05L246.95 828.40L246.97 813.59L246.99 813.44L247.01 816.73L247.03 818.45L247.04 823.64L247.06 816.39L247.08 824.35L247.10 819.63L247.12 815.21L247.14 813.56L247.16 814.13L247.18 819.23L247.20 823.47L247.21 821.07L247.23 830.44L247.25 817.75L247.27 817.32L247.29 824.07L247.31 823.45L247.33 824.90L247.35 822.97L247.36 817.59L247.38 820.41L247.40 820.38L247.42 817.23L247.44 814.91L247.46 813.91L247.48 819.31L247.49 833.56L247.51 828.48L247.53 822.17L247.55 820.46L247.57 830.14L247.59 829.69L247.61 816.17L247.62 814.91L247.64 815.95L247.66 814.68L247.68 816.13L247.70 825.57L247.72 830.98L247.73 822.39L247.75 822.72L247.77 839.05L247.79 825.57L247.81 823.46L247.83 818.95L247.84 821.52L247.86 823.98L247.88 827.53L247.90 815.68L247.92 814.37L247.94 814.53L247.95 814.83L247.97 817.10L247.99 815.95L248.01 818.78L248.03 820.94L248.04 822.11L248.06 829.80L248.08 816.12L248.10 814.48L248.12 827.53L248.13 822.30L248.15 826.60L248.17 824.94L248.19 824.57L248.21 822.56L248.22 816.67L248.24 818.09L248.26 822.45L248.28 825.72L248.30 835.20L248.31 825.08L248.33 823.66L248.35 839.27L248.37 821.47L248.39 817.51L248.40 821.08L248.42 828.27L248.44 823.11L248.46 826.16L248.47 821.98L248.49 819.47L248.51 820.59L248.53 827.44L248.54 834.21L248.56 825.94L248.58 823.21L248.60 833.48L248.62 832.17L248.63 823.32L248.65 819.30L248.67 824.67L248.69 819.73L248.70 821.15L248.72 822.94L248.74 819.68L248.76 822.25L248.77 825.53L248.79 830.67L248.81 827.76L248.83 825.67L248.84 829.36L248.86 828.96L248.88 819.59L248.90 821.73L248.91 823.83L248.93 820.65L248.95 822.86L248.96 833.65L248.98 823.08L249.00 822.00L249.02 822.42L249.03 822.68L249.05 827.34L249.07 822.62L249.09 833.96L249.10 819.30L249.12 820.55L249.14 822.91L249.15 828.50L249.17 824.69L249.19 822.83L249.21 824.49L249.22 821.96L249.24 823.74L249.26 851.42L249.27 831.61L249.29 828.33L249.31 824.89L249.33 819.39L249.34 824.85L249.36 834.69L249.38 827.75L249.39 826.79L249.41 831.47L249.43 830.84L249.44 834.34L249.46 826.31L249.48 820.96L249.50 824.96L249.51 837.31L249.53 826.94L249.55 822.25L249.56 834.62L249.58 819.75L249.60 820.64L249.61 825.47L249.63 822.00L249.65 833.34L249.66 828.53L249.68 825.30L249.70 826.79L249.71 821.29L249.73 824.16L249.75 837.43L249.76 829.49L249.78 825.16L249.80 820.02L249.81 818.90L249.83 819.40L249.85 827.44L249.86 827.72L249.88 827.19L249.90 826.57L249.91 828.47L249.93 821.33L249.95 816.38L249.96 817.15L249.98 817.88L250.00 816.97L250.01 827.79L250.03 824.42L250.05 821.07L250.06 825.13L250.08 825.41L250.09 829.30L250.11 829.74L250.13 831.25L250.14 822.65L250.16 824.21L250.18 828.54L250.19 825.68L250.21 824.08L250.23 825.84L250.24 826.51L250.26 832.38L250.27 831.60L250.29 833.28L250.31 824.45L250.32 826.48L250.34 827.51L250.36 825.09L250.37 830.90L250.39 826.60L250.40 832.84L250.42 832.57L250.44 824.50L250.45 825.33L250.47 826.24L250.49 834.89L250.50 821.31L250.52 821.04L250.53 819.57L250.55 818.58L250.57 825.13L250.58 824.29L250.60 832.93L250.61 821.40L250.63 817.62L250.65 820.46L250.66 837.37L250.68 828.66L250.69 824.49L250.71 823.01L250.73 820.72L250.74 819.73L250.76 824.43L250.77 828.48L250.79 820.30L250.81 824.99L250.82 831.19L250.84 828.85L250.85 823.77L250.87 828.72L250.89 833.85L250.90 860.66L250.92 827.18L250.93 829.05L250.95 822.90L250.96 835.46L250.98 829.63L251.00 825.00L251.01 819.66L251.03 823.16L251.04 822.64L251.06 820.27L251.07 821.97L251.09 831.60L251.11 826.92L251.12 834.00L251.14 822.86L251.15 824.23L251.17 831.41L251.18 826.82L251.20 834.05L251.21 829.52L251.23 830.11L251.25 839.05L251.26 822.17L251.28 829.11L251.29 822.03L251.31 819.96L251.32 818.98L251.34 817.39L251.35 818.30L251.37 821.79L251.39 826.37L251.40 823.58L251.42 822.66L251.43 826.29L251.45 830.22L251.46 824.48L251.48 824.62L251.49 825.97L251.51 822.31L251.52 825.37L251.54 820.11L251.56 820.31L251.57 824.95L251.59 830.02L251.60 825.21L251.62 828.17L251.63 823.77L251.65 815.98L251.66 815.72L251.68 820.24L251.69 822.09L251.71 820.95L251.72 826.27L251.74 822.54L251.75 827.04L251.77 830.16L251.78 820.45L251.80 817.27L251.81 819.18L251.83 821.69L251.84 826.20L251.86 822.54L251.87 822.42L251.89 833.92L251.91 838.00L251.92 829.11L251.94 824.91L251.95 825.90L251.97 822.45L251.98 820.93L252.00 819.46L252.01 822.33L252.03 834.25L252.04 832.20L252.06 821.79L252.07 818.67L252.09 820.83L252.10 827.20L252.12 818.93L252.13 820.83L252.15 820.21L252.16 815.18L252.18 817.78L252.19 824.14L252.20 821.85L252.22 829.29L252.23 819.28L252.25 819.04L252.26 827.03L252.28 825.34L252.29 818.97L252.31 816.55L252.32 821.32L252.34 836.23L252.35 833.95L252.37 821.11L252.38 820.70L252.40 821.42L252.41 834.03L252.43 828.49L252.44 823.26L252.46 833.47L252.47 825.64L252.49 821.90L252.50 820.39L252.52 821.00L252.53 825.39L252.54 821.81L252.56 820.34L252.57 821.01L252.59 819.54L252.60 818.64L252.62 820.88L252.63 822.38L252.65 823.93L252.66 822.98L252.68 826.44L252.69 827.66L252.70 830.77L252.72 843.78L252.73 832.50L252.75 829.62L252.76 834.21L252.78 832.92L252.79 831.79L252.81 830.65L252.82 842.71L252.84 836.34L252.85 827.97L252.86 831.20L252.88 834.81L252.89 828.50L252.91 833.58L252.92 833.48L252.94 829.26L252.95 829.76L252.96 833.43L252.98 845.24L252.99 837.28L253.01 832.80L253.02 832.88L253.04 837.21L253.05 831.35L253.07 826.08L253.08 829.63L253.09 831.17L253.11 834.43L253.12 832.30L253.14 827.00L253.15 826.94L253.16 842.41L253.18 835.34L253.19 830.03L253.21 829.61L253.22 835.70L253.24 829.27L253.25 827.83L253.26 828.50L253.28 829.24L253.29 831.83L253.31 832.93L253.32 828.23L253.34 830.21L253.35 837.78L253.36 830.30L253.38 828.52L253.39 833.83L253.41 828.31L253.42 827.51L253.43 827.56L253.45 826.53L253.46 827.45L253.48 831.98L253.49 832.09L253.50 838.70L253.52 831.27L253.53 828.81L253.55 827.30L253.56 823.09L253.57 827.22L253.59 830.13L253.60 826.79L253.62 830.99L253.63 830.87L253.64 827.39L253.66 828.55L253.67 834.22L253.68 832.53L253.70 838.29L253.71 838.92L253.73 829.84L253.74 827.21L253.75 830.60L253.77 842.80L253.78 829.98L253.80 827.79L253.81 829.06L253.82 829.77L253.84 833.07L253.85 830.86L253.86 829.47L253.88 830.13L253.89 830.82L253.91 835.00L253.92 842.81L253.93 833.75L253.95 824.78L253.96 828.31L253.97 831.13L253.99 827.25L254.00 833.23L254.02 835.13L254.03 840.08L254.04 838.38L254.06 828.93L254.07 833.61L254.08 839.21L254.10 829.51L254.11 835.38L254.12 831.76L254.14 842.06L254.15 838.40L254.17 834.02L254.18 831.24L254.19 829.63L254.21 836.08L254.22 837.02L254.23 846.70L254.25 837.99L254.26 838.60L254.27 838.83L254.29 832.35L254.30 831.48L254.31 836.66L254.33 832.91L254.34 827.31L254.35 836.08L254.37 841.00L254.38 849.02L254.39 834.90L254.41 840.98L254.42 837.10L254.44 834.75L254.45 831.15L254.46 832.41L254.48 828.99L254.49 828.26L254.50 839.75L254.52 824.64L254.53 827.94L254.54 832.59L254.56 824.82L254.57 826.83L254.58 837.48L254.60 836.50L254.61 835.75L254.62 835.62L254.64 826.82L254.65 830.98L254.66 832.30L254.68 835.28L254.69 833.45L254.70 832.28L254.71 844.46L254.73 834.37L254.74 834.44L254.75 831.90L254.77 844.45L254.78 830.61L254.79 828.60L254.81 836.64L254.82 836.91L254.83 836.13L254.85 841.17L254.86 833.04L254.87 833.92L254.89 828.51L254.90 829.30L254.91 825.98L254.93 830.27L254.94 827.13L254.95 823.49L254.96 831.26L254.98 839.92L254.99 840.45L255.00 836.52L255.02 840.44L255.03 842.97L255.04 832.42L255.06 828.47L255.07 832.14L255.08 850.49L255.09 843.51L255.11 845.66L255.12 847.43L255.13 842.96L255.15 836.72L255.16 829.81L255.17 830.64L255.19 834.49L255.20 851.26L255.21 836.81L255.22 834.18L255.24 837.93L255.25 835.71L255.26 836.74L255.28 836.48L255.29 830.37L255.30 828.94L255.31 833.69L255.33 840.32L255.34 832.71L255.35 840.27L255.37 841.44L255.38 831.45L255.39 829.59L255.40 832.07L255.42 842.71L255.43 840.60L255.44 844.73L255.46 834.78L255.47 833.60L255.48 839.56L255.49 840.91L255.51 843.45L255.52 835.52L255.53 842.54L255.54 833.65L255.56 837.83L255.57 840.79L255.58 842.43L255.60 844.28L255.61 843.94L255.62 843.65L255.63 842.77L255.65 831.15L255.66 829.98L255.67 831.61L255.68 839.78L255.70 842.96L255.71 844.62L255.72 841.42L255.73 839.04L255.75 852.79L255.76 841.37L255.77 835.66L255.79 835.14L255.80 838.52L255.81 848.57L255.82 838.31L255.84 836.66L255.85 839.87L255.86 842.26L255.87 841.71L255.89 830.19L255.90 831.14L255.91 840.60L255.92 839.63L255.94 839.91L255.95 849.53L255.96 841.41L255.97 840.84L255.99 838.82L256.00 834.78L256.01 839.77L256.02 838.27L256.04 834.26L256.05 835.50L256.06 841.91L256.07 845.13L256.09 842.88L256.10 835.71L256.11 839.06L256.12 843.70L256.13 854.09L256.15 848.23L256.16 847.93L256.17 843.88L256.18 844.71L256.20 844.40L256.21 841.65L256.22 844.62L256.23 853.58L256.25 841.95L256.26 844.53L256.27 840.18L256.28 843.93L256.30 843.39L256.31 847.18L256.32 856.90L256.33 847.04L256.34 842.60L256.36 841.68L256.37 839.46L256.38 844.78L256.39 848.78L256.41 843.59L256.42 848.46L256.43 858.15L256.44 851.13L256.45 849.80L256.47 850.31L256.48 860.64L256.49 846.30L256.50 845.19L256.51 847.49L256.53 851.99L256.54 853.24L256.55 846.63L256.56 848.97L256.58 856.87L256.59 849.44L256.60 852.22L256.61 858.38L256.62 846.80L256.64 846.81L256.65 847.43L256.66 862.31L256.67 848.16L256.68 846.51L256.70 852.16L256.71 851.95L256.72 848.30L256.73 849.52L256.74 848.84L256.76 845.69L256.77 843.40L256.78 846.59L256.79 853.53L256.80 850.81L256.82 869.67L256.83 859.00L256.84 855.23L256.85 850.57L256.86 854.36L256.88 856.05L256.89 849.21L256.90 855.24L256.91 856.93L256.92 854.29L256.94 853.83L256.95 855.09L256.96 859.03L256.97 855.86L256.98 867.32L257.00 879.02L257.01 864.03L257.02 860.92L257.03 858.87L257.04 862.73L257.06 878.87L257.07 862.61L257.08 859.36L257.09 857.10L257.10 857.87L257.11 861.02L257.13 863.74L257.14 867.61L257.15 867.13L257.16 875.14L257.17 866.90L257.19 865.06L257.20 861.03L257.21 862.05L257.22 868.79L257.23 871.23L257.24 873.47L257.26 871.42L257.27 864.95L257.28 868.03L257.29 870.59L257.30 881.61L257.31 855.56L257.33 871.93L257.34 903.46L257.35 855.61L257.36 903.01L257.37 875.72L257.38 855.67L257.40 885.10L257.41 894.45L257.42 855.73L257.43 886.93L257.44 899.07L257.45 855.78L257.47 902.74L257.48 867.87L257.49 855.84L257.50 870.11L257.51 902.25L257.52 855.89L257.54 898.13L257.55 888.89L257.56 855.95L257.57 896.08L257.58 883.49L257.59 856.00L257.61 873.96L257.62 903.74L257.63 856.06L257.64 903.71L257.65 874.60L257.66 856.11L257.67 884.15L257.69 895.91L257.70 856.17L257.71 888.68L257.72 898.72L257.73 856.22L257.74 902.78L257.75 869.93L257.77 856.28L257.78 868.94L257.79 903.12L257.80 856.33L257.81 899.38L257.82 888.03L257.83 856.39L257.85 895.53L257.86 885.34L257.87 856.44L257.88 875.97L257.89 903.95L257.90 856.50L257.91 904.33L257.93 873.46L257.94 856.55L257.95 883.16L257.96 897.31L257.97 856.61L257.98 890.39L257.99 898.31L258.01 856.66L258.02 902.75L258.03 871.97L258.04 856.72L258.05 867.75L258.06 903.92L258.07 856.77L258.08 900.58L258.10 887.14L258.11 856.82L258.12 894.91L258.13 887.14L258.14 856.88L258.15 877.95L258.16 904.09L258.17 856.93L258.19 904.89L258.20 872.30L258.21 856.99L258.22 882.14L258.23 898.66L258.24 857.04L258.25 892.04L258.26 897.83L258.28 857.09L258.29 902.65L258.30 874.00L258.31 857.15L258.32 866.56L258.33 904.65L258.34 857.20L258.35 901.70L258.37 886.20L258.38 857.25L258.39 894.24L258.40 888.91L258.41 857.31L258.42 879.91L258.43 904.16L258.44 857.36L258.45 905.37L258.47 871.12L258.48 857.41L258.49 881.08L258.50 899.94L258.51 857.47L258.52 893.65L258.53 897.30L258.54 857.52L258.55 902.48L258.57 876.00L258.58 857.57L258.59 865.83L258.60 905.30L258.61 857.63L258.62 902.76L258.63 885.22L258.64 857.68L258.65 893.52L258.66 890.62L258.68 857.73L258.69 881.83L258.70 904.16L258.71 857.78L258.72 905.79L258.73 869.93L258.74 857.84L258.75 879.99L258.76 901.15L258.77 857.89L258.78 895.20L258.80 896.71L258.81 857.94L258.82 902.25L258.83 877.99L258.84 857.99L258.85 867.87L258.86 905.89L258.87 858.04L258.88 903.76L258.89 884.20L258.90 858.10L258.92 892.75L258.93 892.30L258.94 858.15L258.95 883.73L258.96 904.08L258.97 858.20L258.98 906.13L258.99 868.72L259.00 858.25L259.01 878.88L259.02 902.31L259.03 858.30L259.05 896.70L259.06 896.06L259.07 858.36L259.08 901.95L259.09 879.95L259.10 858.41L259.11 869.91L259.12 906.41L259.13 858.46L259.14 904.69L259.15 883.15L259.16 858.51L259.17 891.92L259.19 893.92L259.20 858.56L259.21 885.59L259.22 903.95L259.23 858.61L259.24 906.40L259.25 867.51L259.26 858.66L259.27 877.73L259.28 903.40L259.29 858.72L259.30 898.15L259.31 895.35L259.32 858.77L259.34 901.58L259.35 881.88L259.36 858.82L259.37 871.94L259.38 906.85L259.39 858.87L259.40 905.55L259.41 882.06L259.42 858.92L259.43 891.05L259.44 895.49L259.45 858.97L259.46 887.41L259.47 903.74L259.48 859.02L259.49 906.60L259.50 867.82L259.52 859.07L259.53 876.57L259.54 904.42L259.55 859.12L259.56 899.53L259.57 894.60L259.58 859.17L259.59 901.16L259.60 883.78L259.61 859.22L259.62 873.96L259.63 907.22L259.64 859.27L259.65 906.34L259.66 880.95L259.67 859.32L259.68 890.14L259.69 897.01L259.70 859.37L259.72 889.20L259.73 903.47L259.74 859.42L259.75 906.73L259.76 869.85L259.77 859.47L259.78 875.38L259.79 905.38L259.80 859.52L259.81 900.86L259.82 893.79" stroke="#0000ff"/><path d="M71.29 813.06L78.24 813.06L97.62 813.06L112.10 814.00L120.56 811.18L126.77 815.31L131.47 812.68L135.24 818.70L139.00 808.35L144.08 794.25L146.52 792.37L148.40 798.95L152.16 787.66L154.98 797.07L156.87 795.19L158.75 793.31L161.57 804.59L163.45 799.89L164.95 798.95L166.65 816.82L168.15 790.49L170.97 800.83L172.29 791.43L173.42 801.77L175.67 780.14L177.55 786.72L177.93 780.21L178.41 782.98L178.87 784.44L179.33 778.47L179.78 782.31L180.22 785.04L180.65 781.71L181.07 785.84L181.49 792.25L181.90 787.64L182.29 782.20L182.68 781.88L183.07 781.67L183.45 784.00L183.82 785.18L184.18 783.27L184.54 781.86L184.89 782.63L185.24 806.08L185.58 781.97L185.92 778.64L186.25 778.06L186.57 781.77L186.89 783.18L187.21 781.40L187.52 783.35L187.83 788.27L188.13 782.59L188.43 779.25L188.72 775.02L189.01 776.98L189.30 786.57L189.58 784.41L189.86 789.66L190.13 783.51L190.41 778.10L190.67 778.74L190.94 777.44L191.20 788.70L191.46 783.53L191.72 785.20L191.97 787.70L192.22 794.70L192.46 785.87L192.71 781.10L192.95 784.29L193.19 784.84L193.42 783.26L193.66 778.99L193.89 781.18L194.11 790.26L194.34 783.58L194.56 777.18L194.78 778.90L195.00 777.61L195.22 783.21L195.43 779.30L195.65 789.98L195.86 785.18L196.06 780.98L196.27 775.84L196.47 782.17L196.68 786.91L196.88 780.75L197.07 779.60L197.27 784.10L197.47 777.43L197.66 781.85L197.85 784.12L198.04 788.46L198.23 788.77L198.41 785.86L198.60 786.17L198.78 777.70L198.96 782.22L199.14 778.54L199.32 790.88L199.50 779.73L199.67 784.35L199.85 801.61L200.02 776.51L200.19 777.15L200.36 775.33L200.53 784.25L200.70 782.29L200.86 775.20L201.03 776.96L201.19 774.65L201.35 777.78L201.51 778.04L201.67 772.59L201.83 774.91L201.99 781.86L202.15 775.44L202.30 772.48L202.46 777.60L202.61 782.52L202.76 781.50L202.91 792.09L203.06 777.49L203.21 778.48L203.36 782.14L203.50 785.14L203.65 781.42L203.79 779.09L203.94 785.24L204.08 777.26L204.22 776.10L204.36 782.81L204.50 785.34L204.64 778.99L204.78 786.76L204.92 785.66L205.05 782.92L205.19 779.16L205.32 789.00L205.46 785.09L205.59 777.95L205.72 775.91L205.85 777.74L205.98 786.02L206.11 788.38L206.24 777.24L206.37 775.92L206.50 781.21L206.62 782.95L206.75 782.83L206.87 779.92L207.00 779.78L207.12 780.88L207.24 789.78L207.37 792.15L207.49 788.23L207.61 788.07L207.73 788.42L207.85 791.40L207.97 791.19L208.09 790.40L208.20 785.02L208.32 781.32L208.44 780.24L208.55 785.31L208.67 792.76L208.78 786.78L208.89 782.87L209.01 781.52L209.12 781.86L209.23 783.38L209.34 797.39L209.45 782.86L209.56 785.66L209.67 785.56L209.78 791.59L209.89 790.29L210.00 784.81L210.11 798.88L210.21 788.69L210.32 805.69L210.43 781.83L210.53 778.16L210.64 784.11L210.74 797.49L210.84 794.62L210.95 790.56L211.05 789.92L211.15 796.82L211.25 795.87L211.36 796.31L211.46 787.76L211.56 786.53L211.66 788.28L211.76 787.81L211.85 782.25L211.95 784.17L212.05 787.92L212.15 790.53L212.25 793.11L212.34 788.38L212.44 786.03L212.53 788.39L212.63 781.82L212.73 787.75L212.82 793.92L212.91 802.53L213.01 789.27L213.10 798.04L213.19 788.91L213.29 789.54L213.38 797.73L213.47 800.66L213.56 792.87L213.65 787.27L213.74 789.71L213.83 793.13L213.92 786.42L214.01 791.25L214.10 795.40L214.19 786.11L214.28 786.31L214.37 785.62L214.45 798.66L214.54 785.14L214.63 787.88L214.71 791.64L214.80 786.59L214.89 789.21L214.97 800.21L215.06 792.37L215.14 797.71L215.23 792.26L215.31 787.61L215.39 794.33L215.48 797.79L215.56 789.91L215.64 802.79L215.73 785.17L215.81 785.32L215.89 791.32L215.97 790.27L216.05 799.53L216.13 788.52L216.21 797.93L216.29 798.88L216.37 797.50L216.45 794.30L216.53 789.03L216.61 792.10L216.69 791.20L216.77 790.25L216.85 794.02L216.93 790.10L217.00 788.18L217.08 806.16L217.16 791.79L217.24 789.20L217.31 793.48L217.39 795.61L217.46 785.90L217.54 786.14L217.62 787.26L217.69 792.00L217.77 798.34L217.84 797.01L217.92 791.82L217.99 792.01L218.06 797.75L218.14 789.62L218.21 788.61L218.28 794.82L218.36 791.88L218.43 794.29L218.50 788.59L218.57 785.63L218.65 788.30L218.72 788.37L218.79 797.06L218.86 798.00L218.93 791.42L219.00 786.42L219.07 795.24L219.14 791.13L219.21 789.52L219.28 792.34L219.35 792.79L219.42 791.12L219.49 783.81L219.56 785.87L219.63 792.43L219.70 795.28L219.76 798.26L219.83 789.23L219.90 785.19L219.97 784.13L220.04 792.09L220.10 787.21L220.17 789.07L220.24 786.99L220.30 792.79L220.37 798.24L220.43 796.19L220.50 789.01L220.57 786.76L220.63 783.45L220.70 786.15L220.76 791.53L220.83 791.99L220.89 788.24L220.96 804.65L221.02 787.42L221.09 788.50L221.15 789.97L221.21 789.91L221.28 792.23L221.34 788.30L221.40 789.21L221.47 798.30L221.53 793.30L221.59 786.35L221.65 783.84L221.72 786.66L221.78 786.34L221.84 787.64L221.90 794.69L221.96 793.37L222.02 790.87L222.09 791.22L222.15 788.17L222.21 789.43L222.27 787.09L222.33 788.39L222.39 804.21L222.45 801.01L222.51 792.62L222.57 796.61L222.63 791.13L222.69 789.03L222.75 799.88L222.81 795.44L222.87 790.73L222.92 794.03L222.98 798.82L223.04 792.44L223.10 795.00L223.16 807.28L223.22 796.11L223.27 789.94L223.33 794.61L223.39 798.67L223.45 790.87L223.50 788.79L223.56 791.23L223.62 789.92L223.67 796.68L223.73 806.09L223.79 803.61L223.84 796.89L223.90 793.89L223.96 798.15L224.01 792.22L224.07 791.31L224.12 788.30L224.18 792.47L224.23 805.40L224.29 792.32L224.34 787.72L224.40 790.58L224.45 787.49L224.51 786.31L224.56 791.60L224.62 790.65L224.67 791.78L224.73 797.17L224.78 794.96L224.83 795.79L224.89 789.92L224.94 792.28L224.99 800.10L225.05 803.94L225.10 795.11L225.15 797.27L225.21 795.83L225.26 796.06L225.31 794.13L225.36 793.13L225.42 808.47L225.47 793.59L225.52 792.01L225.57 794.70L225.62 795.34L225.68 787.38L225.73 789.26L225.78 799.85L225.83 806.12L225.88 806.67L225.93 805.98L225.98 793.43L226.03 795.34L226.09 795.56L226.14 797.94L226.19 798.13L226.24 794.50L226.29 803.17L226.34 794.99L226.39 791.20L226.44 795.61L226.49 809.45L226.54 813.66L226.59 809.07L226.64 794.06L226.68 789.53L226.73 795.46L226.78 801.85L226.83 797.70L226.88 791.52L226.93 793.89L226.98 804.47L227.03 805.16L227.08 789.51L227.12 789.89L227.17 790.27L227.22 795.22L227.27 803.99L227.32 798.63L227.36 794.10L227.41 789.02L227.46 783.81L227.51 785.23L227.55 793.61L227.60 792.95L227.65 790.52L227.69 793.02L227.74 793.55L227.79 797.79L227.84 789.57L227.88 790.34L227.93 806.03L227.97 808.68L228.02 803.08L228.07 792.48L228.11 794.35L228.16 797.94L228.21 789.54L228.25 791.57L228.30 791.35L228.34 789.30L228.39 795.85L228.43 801.07L228.48 793.41L228.52 792.93L228.57 796.22L228.61 799.00L228.66 794.72L228.70 794.57L228.75 791.57L228.79 792.12L228.84 797.41L228.88 793.78L228.93 792.23L228.97 794.55L229.01 795.90L229.06 807.84L229.10 796.60L229.15 804.89L229.19 801.51L229.23 794.77L229.28 800.65L229.32 800.33L229.37 795.23L229.41 793.82L229.45 814.58L229.50 801.84L229.54 796.53L229.58 793.37L229.62 790.67L229.67 790.30L229.71 798.66L229.75 801.65L229.80 796.97L229.84 790.82L229.88 793.06L229.92 800.02L229.96 801.08L230.01 797.44L230.05 796.93L230.09 788.43L230.13 793.08L230.17 788.40L230.22 791.51L230.26 786.79L230.30 794.06L230.34 794.16L230.38 807.26L230.42 787.17L230.47 785.97L230.51 791.59L230.55 797.15L230.59 796.18L230.63 795.80L230.67 793.60L230.71 794.00L230.75 803.56L230.79 792.35L230.83 791.87L230.87 796.31L230.91 810.16L230.95 795.58L231.00 791.75L231.04 797.92L231.08 809.88L231.12 796.95L231.16 803.26L231.20 794.43L231.24 791.61L231.27 793.69L231.31 797.99L231.35 791.97L231.39 789.24L231.43 788.25L231.47 794.67L231.51 796.63L231.55 792.75L231.59 796.07L231.63 800.29L231.67 792.06L231.71 793.24L231.75 793.18L231.78 791.87L231.82 797.72L231.86 800.21L231.90 793.37L231.94 790.91L231.98 801.24L232.02 802.74L232.05 791.27L232.09 796.22L232.13 798.27L232.17 801.15L232.21 798.01L232.25 791.53L232.28 797.85L232.32 795.94L232.36 794.68L232.40 797.88L232.43 796.59L232.47 800.31L232.51 815.75L232.55 799.73L232.58 797.33L232.62 794.79L232.66 793.75L232.70 795.95L232.73 794.39L232.77 807.83L232.81 797.28L232.84 799.05L232.88 803.71L232.92 800.08L232.95 799.55L232.99 791.32L233.03 792.08L233.06 794.76L233.10 793.29L233.14 796.50L233.17 797.03L233.21 793.97L233.25 797.17L233.28 805.20L233.32 817.61L233.35 810.54L233.39 820.97L233.43 806.32L233.46 810.43L233.50 799.72L233.53 805.63L233.57 809.02L233.60 800.75L233.64 800.18L233.68 796.42L233.71 793.26L233.75 797.53L233.78 802.82L233.82 802.69L233.85 800.30L233.89 796.69L233.92 796.27L233.96 793.80L233.99 794.33L234.03 797.27L234.06 803.24L234.10 804.62L234.13 801.03L234.17 800.68L234.20 800.63L234.24 801.80L234.27 805.54L234.31 810.92L234.34 808.52L234.37 793.90L234.41 789.37L234.44 798.51L234.48 794.92L234.51 795.87L234.54 803.94L234.58 802.47L234.61 796.27L234.65 801.39L234.68 794.35L234.71 793.66L234.75 795.60L234.78 802.55L234.82 800.69L234.85 795.96L234.88 797.31L234.92 792.19L234.95 791.75L234.98 796.30L235.02 801.21L235.05 803.07L235.08 804.48L235.12 807.21L235.15 797.18L235.18 795.35L235.22 806.18L235.25 802.33L235.28 803.43L235.31 802.79L235.35 798.17L235.38 800.02L235.41 808.14L235.45 803.55L235.48 805.07L235.51 805.88L235.54 802.88L235.58 799.68L235.61 798.23L235.64 800.70L235.67 798.18L235.71 800.71L235.74 798.29L235.77 804.63L235.80 802.93L235.83 800.19L235.87 802.05L235.90 801.02L235.93 801.12L235.96 799.47L235.99 800.02L236.03 807.44L236.06 817.74L236.09 812.80L236.12 801.90L236.15 798.41L236.18 802.76L236.22 813.30L236.25 814.72L236.28 808.25L236.31 812.91L236.34 809.81L236.37 819.23L236.40 801.55L236.43 803.93L236.47 800.39L236.50 812.41L236.53 800.17L236.56 798.43L236.59 805.55L236.62 815.91L236.65 805.76L236.68 804.25L236.71 803.19L236.74 801.85L236.77 802.66L236.81 808.24L236.84 810.70L236.87 804.32L236.90 804.21L236.93 808.28L236.96 806.61L236.99 817.13L237.02 804.84L237.05 813.95L237.08 808.77L237.11 807.55L237.14 805.28L237.17 807.75L237.20 806.57L237.23 805.83L237.26 811.09L237.29 800.56L237.32 800.53L237.35 802.84L237.38 803.26L237.41 806.32L237.44 801.53L237.47 807.18L237.50 806.63L237.53 815.77L237.56 805.92L237.59 805.44L237.62 814.78L237.65 807.34L237.68 806.56L237.71 805.33L237.73 808.80L237.76 812.89L237.79 803.23L237.82 799.05L237.85 800.37L237.88 806.34L237.91 804.00L237.94 798.49L237.97 803.23L238.00 814.90L238.03 819.27L238.05 813.01L238.08 810.81L238.11 799.78L238.14 797.21L238.17 799.36L238.20 800.42L238.23 800.37L238.26 807.30L238.28 807.60L238.31 804.92L238.34 808.71L238.37 815.10L238.40 804.76L238.43 802.21L238.46 797.23L238.48 801.08L238.51 811.09L238.54 807.72L238.57 813.51L238.60 810.89L238.62 814.38L238.65 814.48L238.68 812.41L238.71 814.65L238.74 815.59L238.77 804.23L238.79 806.84L238.82 810.67L238.85 803.75L238.88 812.54L238.90 808.29L238.93 806.47L238.96 803.41L238.99 803.60L239.02 818.09L239.04 808.49L239.07 803.23L239.10 801.54L239.13 806.90L239.15 811.01L239.18 804.63L239.21 806.43L239.23 810.00L239.26 810.70L239.29 805.33L239.32 802.73L239.34 799.95L239.37 799.92L239.40 801.43L239.43 797.09L239.45 797.16L239.48 799.75L239.51 797.74L239.53 796.61L239.56 798.60L239.59 800.93L239.61 798.95L239.64 801.40L239.67 803.18L239.69 801.54L239.72 800.31L239.75 804.27L239.77 807.55L239.80 808.70L239.83 806.01L239.85 825.05L239.88 817.45L239.91 814.51L239.93 806.26L239.96 807.30L239.99 811.78L240.01 807.54L240.04 802.68L240.07 804.85L240.09 822.29L240.12 808.10L240.14 806.50L240.17 804.46L240.20 809.53L240.22 813.68L240.25 808.56L240.28 812.82L240.30 811.66L240.33 811.80L240.35 807.82L240.38 804.46L240.41 801.44L240.43 802.99L240.46 807.05L240.48 821.11L240.51 806.53L240.53 803.95L240.56 804.59L240.59 807.38L240.61 824.81L240.64 811.49L240.66 806.12L240.69 800.24L240.71 805.64L240.74 816.92L240.76 812.19L240.79 809.44L240.82 815.22L240.84 810.85L240.87 814.01L240.89 809.24L240.92 799.89L240.94 795.43L240.97 802.21L240.99 800.52L241.02 800.47L241.04 801.41L241.07 800.76L241.09 799.40L241.12 801.87L241.14 806.41L241.17 809.53L241.19 819.92L241.22 807.61L241.24 812.49L241.27 814.39L241.29 804.06L241.32 801.86L241.34 806.18L241.37 828.34L241.39 804.93L241.42 805.58L241.44 813.01L241.47 803.37L241.49 802.64L241.51 803.06L241.54 811.99L241.56 815.50L241.59 811.10L241.61 826.67L241.64 821.99L241.66 809.18L241.69 814.42L241.71 809.48L241.73 808.80L241.76 808.37L241.78 821.62L241.81 811.35L241.83 804.46L241.86 808.86L241.88 818.56L241.90 809.44L241.93 806.05L241.95 808.03L241.98 807.72L242.00 807.87L242.02 814.57L242.05 826.12L242.07 812.96L242.10 808.76L242.12 815.37L242.14 822.94L242.17 825.93L242.19 810.73L242.22 812.21L242.24 817.67L242.26 807.77L242.29 808.47L242.31 817.59L242.33 813.39L242.36 820.49L242.38 819.42L242.40 814.96L242.43 814.50L242.45 828.91L242.48 815.32L242.50 825.54L242.52 810.18L242.55 813.41L242.57 815.30L242.59 815.97L242.62 828.51L242.64 816.04L242.66 814.27L242.69 822.57L242.71 819.33L242.73 812.94L242.76 808.91L242.78 807.86L242.80 806.70L242.82 813.38L242.85 813.27L242.87 814.19L242.89 812.50L242.92 813.68L242.94 817.76L242.96 812.87L242.99 818.76L243.01 808.91L243.03 807.84L243.05 816.49L243.08 809.73L243.10 812.58L243.12 815.21L243.15 811.81L243.17 816.09L243.19 822.27L243.21 811.18L243.24 807.40L243.26 810.27L243.28 812.00L243.30 809.72L243.33 813.59L243.35 812.51L243.37 817.03L243.39 810.69L243.42 811.79L243.44 812.45L243.46 809.98L243.48 813.07L243.51 825.17L243.53 822.86L243.55 822.49L243.57 811.35L243.60 815.99L243.62 822.73L243.64 824.19L243.66 822.46L243.68 815.16L243.71 815.91L243.73 818.14L243.75 818.97L243.77 812.66L243.80 813.52L243.82 825.78L243.84 815.64L243.86 817.84L243.88 816.92L243.91 811.74L243.93 810.48L243.95 814.39L243.97 824.89L243.99 815.63L244.02 815.48L244.04 823.61L244.06 815.75L244.08 813.75L244.10 814.48L244.12 821.43L244.15 815.42L244.17 818.36L244.19 824.71L244.21 812.12L244.23 809.48L244.25 809.18L244.28 817.98L244.30 814.02L244.32 813.69L244.34 815.95L244.36 811.74L244.38 815.21L244.40 817.43L244.43 816.78L244.45 810.03L244.47 810.09L244.49 818.24L244.51 829.63L244.53 825.83L244.55 824.57L244.58 816.13L244.60 813.29L244.62 815.20L244.64 815.36L244.66 823.29L244.68 825.21L244.70 824.05L244.72 819.95L244.75 817.28L244.77 821.43L244.79 818.81L244.81 815.45L244.83 825.79L244.85 816.31L244.87 820.73L244.89 820.21L244.91 820.25L244.93 821.56L244.96 817.78L244.98 815.63L245.00 818.04L245.02 819.42L245.04 830.06L245.06 828.13L245.08 830.38L245.10 830.41L245.12 823.37L245.14 820.85L245.16 816.78L245.18 818.13L245.20 829.82L245.23 827.70L245.25 816.91L245.27 817.56L245.29 826.83L245.31 823.98L245.33 825.74L245.35 825.15L245.37 822.00L245.39 819.41L245.41 820.70L245.43 820.85L245.45 817.11L245.47 816.90L245.49 822.03L245.51 820.79L245.53 822.93L245.55 821.57L245.57 825.08L245.59 829.66L245.61 826.11L245.63 820.61L245.65 823.25L245.67 822.29L245.70 816.92L245.72 816.48L245.74 810.87L245.76 810.86L245.78 818.99L245.80 825.75L245.82 826.95L245.84 824.85L245.86 826.45L245.88 824.85L245.90 823.67L245.92 816.60L245.94 822.44L245.96 820.01L245.98 814.34L246.00 812.24L246.02 818.24L246.04 832.97L246.06 822.48L246.08 831.97L246.10 818.54L246.11 819.57L246.13 820.50L246.15 815.35L246.17 815.41L246.19 815.43L246.21 816.41L246.23 818.02L246.25 823.60L246.27 833.66L246.29 826.44L246.31 819.36L246.33 820.36L246.35 829.97L246.37 823.30L246.39 824.95L246.41 824.36L246.43 819.92L246.45 817.26L246.47 819.75L246.49 832.70L246.51 840.20L246.53 819.03L246.55 815.41L246.57 819.63L246.58 821.86L246.60 815.13L246.62 814.51L246.64 820.68L246.66 827.96L246.68 825.04L246.70 821.47L246.72 817.24L246.74 816.71L246.76 813.96L246.78 815.82L246.80 823.80L246.82 831.84L246.84 823.81L246.85 819.66L246.87 817.95L246.89 814.73L246.91 815.73L246.93 818.21L246.95 819.95L246.97 818.92L246.99 821.33L247.01 820.26L247.03 826.45L247.04 823.69L247.06 820.32L247.08 822.57L247.10 818.81L247.12 815.40L247.14 813.82L247.16 815.57L247.18 823.84L247.20 826.80L247.21 821.27L247.23 827.50L247.25 817.14L247.27 816.82L247.29 823.67L247.31 821.01L247.33 830.86L247.35 840.12L247.36 823.55L247.38 823.25L247.40 824.46L247.42 817.27L247.44 818.40L247.46 818.44L247.48 821.91L247.49 832.08L247.51 828.64L247.53 819.73L247.55 820.66L247.57 825.71L247.59 829.49L247.61 819.87L247.62 816.57L247.64 819.90L247.66 819.68L247.68 818.24L247.70 824.87L247.72 825.62L247.73 833.84L247.75 822.19L247.77 822.00L247.79 824.47L247.81 833.80L247.83 827.74L247.84 823.83L247.86 819.64L247.88 818.17L247.90 815.77L247.92 814.39L247.94 814.85L247.95 817.45L247.97 823.01L247.99 818.59L248.01 817.93L248.03 817.49L248.04 816.97L248.06 834.73L248.08 817.16L248.10 815.86L248.12 827.58L248.13 825.10L248.15 824.16L248.17 823.54L248.19 840.18L248.21 829.76L248.22 820.54L248.24 825.23L248.26 835.25L248.28 828.71L248.30 825.46L248.31 827.47L248.33 832.64L248.35 829.25L248.37 821.94L248.39 819.89L248.40 823.82L248.42 832.61L248.44 823.06L248.46 827.19L248.47 824.96L248.49 819.54L248.51 819.91L248.53 824.53L248.54 832.53L248.56 832.34L248.58 832.89L248.60 835.73L248.62 825.86L248.63 821.58L248.65 821.51L248.67 825.79L248.69 826.66L248.70 829.79L248.72 822.66L248.74 821.03L248.76 829.49L248.77 834.76L248.79 827.33L248.81 823.63L248.83 819.76L248.84 823.43L248.86 823.49L248.88 823.22L248.90 827.09L248.91 828.89L248.93 824.66L248.95 821.33L248.96 832.84L248.98 821.21L249.00 821.58L249.02 823.51L249.03 826.06L249.05 827.48L249.07 823.48L249.09 830.37L249.10 826.12L249.12 827.03L249.14 831.99L249.15 826.78L249.17 822.89L249.19 826.33L249.21 822.50L249.22 819.09L249.24 819.96L249.26 830.45L249.27 824.85L249.29 826.59L249.31 829.45L249.33 821.07L249.34 826.13L249.36 826.24L249.38 824.24L249.39 823.38L249.41 843.20L249.43 836.61L249.44 826.24L249.46 821.06L249.48 821.82L249.50 825.18L249.51 831.76L249.53 835.73L249.55 831.93L249.56 826.38L249.58 818.34L249.60 821.28L249.61 828.41L249.63 822.67L249.65 824.70L249.66 832.28L249.68 834.81L249.70 821.15L249.71 819.76L249.73 829.12L249.75 839.58L249.76 829.17L249.78 822.23L249.80 820.20L249.81 819.60L249.83 819.60L249.85 827.57L249.86 822.01L249.88 819.42L249.90 822.11L249.91 825.72L249.93 829.80L249.95 818.62L249.96 820.65L249.98 820.62L250.00 816.33L250.01 820.71L250.03 831.66L250.05 824.39L250.06 826.02L250.08 828.42L250.09 829.86L250.11 824.82L250.13 834.11L250.14 831.13L250.16 834.28L250.18 825.71L250.19 825.84L250.21 821.99L250.23 824.33L250.24 828.57L250.26 826.94L250.27 824.30L250.29 826.36L250.31 826.75L250.32 824.95L250.34 829.52L250.36 822.46L250.37 825.55L250.39 828.96L250.40 829.35L250.42 823.74L250.44 820.44L250.45 823.36L250.47 838.73L250.49 841.44L250.50 821.49L250.52 820.57L250.53 824.72L250.55 821.06L250.57 827.96L250.58 827.12L250.60 826.82L250.61 824.14L250.63 821.72L250.65 821.65L250.66 835.41L250.68 828.42L250.69 826.81L250.71 824.36L250.73 820.67L250.74 825.24L250.76 825.95L250.77 827.18L250.79 820.61L250.81 821.38L250.82 824.56L250.84 821.16L250.85 821.12L250.87 835.86L250.89 824.23L250.90 824.90L250.92 826.35L250.93 832.67L250.95 830.89L250.96 838.46L250.98 825.36L251.00 822.17L251.01 822.84L251.03 822.12L251.04 820.13L251.06 820.56L251.07 832.34L251.09 820.54L251.11 819.66L251.12 834.51L251.14 818.54L251.15 820.74L251.17 820.21L251.18 818.33L251.20 822.93L251.21 824.78L251.23 832.69L251.25 836.95L251.26 823.20L251.28 827.37L251.29 824.91L251.31 824.00L251.32 821.06L251.34 818.88L251.35 819.68L251.37 823.63L251.39 833.48L251.40 826.15L251.42 821.87L251.43 824.86L251.45 837.27L251.46 823.92L251.48 820.38L251.49 828.60L251.51 827.08L251.52 829.67L251.54 820.69L251.56 818.44L251.57 831.65L251.59 821.38L251.60 819.35L251.62 831.57L251.63 824.50L251.65 819.57L251.66 817.01L251.68 820.62L251.69 829.02L251.71 819.88L251.72 822.05L251.74 822.22L251.75 824.92L251.77 831.38L251.78 824.87L251.80 818.84L251.81 823.18L251.83 832.68L251.84 826.06L251.86 819.90L251.87 821.78L251.89 830.75L251.91 833.09L251.92 828.00L251.94 829.21L251.95 831.35L251.97 828.86L251.98 827.57L252.00 827.28L252.01 822.47L252.03 824.63L252.04 820.84L252.06 819.81L252.07 824.50L252.09 831.90L252.10 818.12L252.12 819.52L252.13 829.49L252.15 825.54L252.16 816.35L252.18 817.63L252.19 826.59L252.20 821.06L252.22 825.89L252.23 820.53L252.25 820.07L252.26 824.14L252.28 824.08L252.29 821.84L252.31 819.69L252.32 824.28L252.34 847.90L252.35 825.26L252.37 818.72L252.38 820.75L252.40 823.10L252.41 831.14L252.43 826.04L252.44 821.27L252.46 824.10L252.47 846.38L252.49 820.21L252.50 819.89L252.52 823.66L252.53 822.08L252.54 821.54L252.56 823.88L252.57 824.26L252.59 819.20L252.60 817.88L252.62 820.22L252.63 823.02L252.65 831.23L252.66 826.87L252.68 828.72L252.69 833.49L252.70 837.60L252.72 843.25L252.73 832.71L252.75 829.21L252.76 832.94L252.78 829.36L252.79 833.60L252.81 829.71L252.82 834.60L252.84 839.78L252.85 837.39L252.86 837.67L252.88 839.23L252.89 829.30L252.91 833.37L252.92 832.04L252.94 831.23L252.95 835.47L252.96 842.10L252.98 842.31L252.99 834.11L253.01 839.53L253.02 836.36L253.04 845.62L253.05 834.56L253.07 833.64L253.08 832.86L253.09 833.37L253.11 833.83L253.12 832.16L253.14 826.95L253.15 823.56L253.16 826.33L253.18 828.97L253.19 829.58L253.21 830.06L253.22 836.02L253.24 839.22L253.25 831.72L253.26 828.71L253.28 827.25L253.29 835.48L253.31 834.12L253.32 828.91L253.34 831.02L253.35 868.30L253.36 828.67L253.38 827.91L253.39 835.39L253.41 825.10L253.42 826.32L253.43 831.75L253.45 830.82L253.46 827.97L253.48 826.34L253.49 827.91L253.50 830.75L253.52 837.62L253.53 828.93L253.55 832.83L253.56 825.76L253.57 830.50L253.59 831.71L253.60 830.26L253.62 847.85L253.63 826.73L253.64 826.55L253.66 839.24L253.67 835.06L253.68 833.09L253.70 835.81L253.71 829.55L253.73 826.74L253.74 831.21L253.75 837.47L253.77 845.88L253.78 832.26L253.80 830.96L253.81 831.60L253.82 830.55L253.84 844.73L253.85 832.20L253.86 835.57L253.88 831.32L253.89 831.31L253.91 831.27L253.92 837.54L253.93 832.42L253.95 825.26L253.96 826.49L253.97 824.65L253.99 823.41L254.00 831.56L254.02 844.10L254.03 840.93L254.04 834.98L254.06 830.57L254.07 835.15L254.08 833.98L254.10 828.89L254.11 830.41L254.12 830.56L254.14 837.44L254.15 830.53L254.17 840.91L254.18 831.02L254.19 829.51L254.21 832.27L254.22 843.88L254.23 845.30L254.25 842.40L254.26 835.57L254.27 843.62L254.29 834.57L254.30 831.97L254.31 833.28L254.33 839.79L254.34 830.07L254.35 836.32L254.37 843.20L254.38 842.68L254.39 832.58L254.41 838.39L254.42 837.08L254.44 843.06L254.45 836.13L254.46 833.52L254.48 830.15L254.49 833.84L254.50 832.39L254.52 826.51L254.53 831.66L254.54 830.88L254.56 827.09L254.57 829.53L254.58 836.65L254.60 843.04L254.61 841.05L254.62 832.58L254.64 827.88L254.65 831.07L254.66 838.73L254.68 845.44L254.69 830.28L254.70 833.98L254.71 848.22L254.73 838.77L254.74 833.28L254.75 826.85L254.77 832.00L254.78 830.88L254.79 825.27L254.81 830.17L254.82 834.69L254.83 842.73L254.85 844.26L254.86 830.79L254.87 830.80L254.89 828.46L254.90 830.90L254.91 829.56L254.93 834.76L254.94 831.39L254.95 827.09L254.96 831.59L254.98 832.75L254.99 832.46L255.00 840.31L255.02 839.27L255.03 831.30L255.04 827.43L255.06 830.07L255.07 833.96L255.08 842.76L255.09 836.38L255.11 838.69L255.12 840.46L255.13 843.48L255.15 837.63L255.16 834.68L255.17 832.79L255.19 832.35L255.20 841.28L255.21 838.59L255.22 836.58L255.24 843.52L255.25 837.97L255.26 835.22L255.28 834.97L255.29 834.87L255.30 834.74L255.31 838.74L255.33 840.23L255.34 835.15L255.35 841.65L255.37 843.73L255.38 832.23L255.39 834.81L255.40 847.85L255.42 845.68L255.43 841.95L255.44 843.90L255.46 839.23L255.47 840.83L255.48 835.62L255.49 848.92L255.51 837.10L255.52 836.53L255.53 837.45L255.54 832.66L255.56 834.80L255.57 838.58L255.58 836.36L255.60 835.66L255.61 841.08L255.62 843.98L255.63 839.91L255.65 830.47L255.66 832.74L255.67 843.68L255.68 838.03L255.70 838.05L255.71 837.52L255.72 834.10L255.73 837.00L255.75 844.06L255.76 842.45L255.77 839.88L255.79 838.65L255.80 844.62L255.81 854.16L255.82 845.62L255.84 854.83L255.85 840.41L255.86 853.25L255.87 839.16L255.89 832.98L255.90 834.57L255.91 840.96L255.92 837.68L255.94 841.81L255.95 856.66L255.96 843.06L255.97 840.84L255.99 844.33L256.00 842.56L256.01 842.92L256.02 846.95L256.04 843.11L256.05 836.04L256.06 839.40L256.07 852.29L256.09 846.82L256.10 838.26L256.11 842.53L256.12 845.25L256.13 848.73L256.15 848.37L256.16 841.96L256.17 842.67L256.18 849.97L256.20 846.98L256.21 843.46L256.22 850.89L256.23 851.40L256.25 848.63L256.26 850.54L256.27 844.16L256.28 858.12L256.30 839.49L256.31 840.95L256.32 845.84L256.33 846.21L256.34 842.13L256.36 848.75L256.37 845.90L256.38 846.84L256.39 859.23L256.41 851.30L256.42 848.23L256.43 849.99L256.44 846.53L256.45 848.05L256.47 848.87L256.48 850.06L256.49 846.11L256.50 846.74L256.51 848.79L256.53 853.13L256.54 861.73L256.55 849.50L256.56 847.54L256.58 852.31L256.59 859.54L256.60 855.30L256.61 868.37L256.62 853.41L256.64 853.29L256.65 852.88L256.66 855.98L256.67 851.80L256.68 859.99L256.70 850.79L256.71 846.50L256.72 845.54L256.73 845.33L256.74 847.03L256.76 849.53L256.77 846.93L256.78 846.38L256.79 850.54L256.80 853.67L256.82 865.13L256.83 862.27L256.84 867.87L256.85 860.21L256.86 855.99L256.88 858.94L256.89 851.66L256.90 856.76L256.91 856.71L256.92 854.57L256.94 862.79L256.95 868.45L256.96 866.45L256.97 863.95L256.98 869.61L257.00 859.66L257.01 858.72L257.02 861.75L257.03 856.33L257.04 858.00L257.06 867.24L257.07 862.74L257.08 861.15L257.09 870.66L257.10 860.96L257.11 860.73L257.13 864.70L257.14 880.22L257.15 868.62L257.16 870.32L257.17 880.07L257.19 865.62L257.20 863.08L257.21 862.84L257.22 866.49L257.23 863.77L257.24 866.15L257.26 871.57L257.27 863.93L257.28 868.42L257.29 870.40L257.30 881.61L257.31 855.56L257.33 871.93L257.34 903.46L257.35 855.61L257.36 903.01L257.37 875.72L257.38 855.67L257.40 885.10L257.41 894.45L257.42 855.73L257.43 886.93L257.44 899.07L257.45 855.78L257.47 902.74L257.48 867.87L257.49 855.84L257.50 870.11L257.51 902.25L257.52 855.89L257.54 898.13L257.55 888.89L257.56 855.95L257.57 896.08L257.58 883.49L257.59 856.00L257.61 873.96L257.62 903.74L257.63 856.06L257.64 903.71L257.65 874.60L257.66 856.11L257.67 884.15L257.69 895.91L257.70 856.17L257.71 888.68L257.72 898.72L257.73 856.22L257.74 902.78L257.75 869.93L257.77 856.28L257.78 868.94L257.79 903.12L257.80 856.33L257.81 899.38L257.82 888.03L257.83 856.39L257.85 895.53L257.86 885.34L257.87 856.44L257.88 875.97L257.89 903.95L257.90 856.50L257.91 904.33L257.93 873.46L257.94 856.55L257.95 883.16L257.96 897.31L257.97 856.61L257.98 890.39L257.99 898.31L258.01 856.66L258.02 902.75L258.03 871.97L258.04 856.72L258.05 867.75L258.06 903.92L258.07 856.77L258.08 900.58L258.10 887.14L258.11 856.82L258.12 894.91L258.13 887.14L258.14 856.88L258.15 877.95L258.16 904.09L258.17 856.93L258.19 904.89L258.20 872.30L258.21 856.99L258.22 882.14L258.23 898.66L258.24 857.04L258.25 892.04L258.26 897.83L258.28 857.09L258.29 902.65L258.30 874.00L258.31 857.15L258.32 866.56L258.33 904.65L258.34 857.20L258.35 901.70L258.37 886.20L258.38 857.25L258.39 894.24L258.40 888.91L258.41 857.31L258.42 879.91L258.43 904.16L258.44 857.36L258.45 905.37L258.47 871.12L258.48 857.41L258.49 881.08L258.50 899.94L258.51 857.47L258.52 893.65L258.53 897.30L258.54 857.52L258.55 902.48L258.57 876.00L258.58 857.57L258.59 865.83L258.60 905.30L258.61 857.63L258.62 902.76L258.63 885.22L258.64 857.68L258.65 893.52L258.66 890.62L258.68 857.73L258.69 881.83L258.70 904.16L258.71 857.78L258.72 905.79L258.73 869.93L258.74 857.84L258.75 879.99L258.76 901.15L258.77 857.89L258.78 895.20L258.80 896.71L258.81 857.94L258.82 902.25L258.83 877.99L258.84 857.99L258.85 867.87L258.86 905.89L258.87 858.04L258.88 903.76L258.89 884.20L258.90 858.10L258.92 892.75L258.93 892.30L258.94 858.15L258.95 883.73L258.96 904.08L258.97 858.20L258.98 906.13L258.99 868.72L259.00 858.25L259.01 878.88L259.02 902.31L259.03 858.30L259.05 896.70L259.06 896.06L259.07 858.36L259.08 901.95L259.09 879.95L259.10 858.41L259.11 869.91L259.12 906.41L259.13 858.46L259.14 904.69L259.15 883.15L259.16 858.51L259.17 891.92L259.19 893.92L259.20 858.56L259.21 885.59L259.22 903.95L259.23 858.61L259.24 906.40L259.25 867.51L259.26 858.66L259.27 877.73L259.28 903.40L259.29 858.72L259.30 898.15L259.31 895.35L259.32 858.77L259.34 901.58L259.35 881.88L259.36 858.82L259.37 871.94L259.38 906.85L259.39 858.87L259.40 905.55L259.41 882.06L259.42 858.92L259.43 891.05L259.44 895.49L259.45 858.97L259.46 887.41L259.47 903.74L259.48 859.02L259.49 906.60L259.50 867.82L259.52 859.07L259.53 876.57L259.54 904.42L259.55 859.12L259.56 899.53L259.57 894.60L259.58 859.17L259.59 901.16L259.60 883.78L259.61 859.22L259.62 873.96L259.63 907.22L259.64 859.27L259.65 906.34L259.66 880.95L259.67 859.32L259.68 890.14L259.69 897.01L259.70 859.37L259.72 889.20L259.73 903.47L259.74 859.42L259.75 906.73L259.76 869.85L259.77 859.47L259.78 875.38L259.79 905.38L259.80 859.52L259.81 900.86L259.82 893.79" stroke="#ff0000"/></g>
<rect x="78.20" y="746.80" width="196.40" height="147.20" fill="none" stroke="#000" stroke-width="1.5"/>
<path d="M78.20 746.80h5M274.60 746.80h-5M78.20 767.83h5M274.60 767.83h-5M78.20 788.86h5M274.60 788.86h-5M78.20 809.89h5M274.60 809.89h-5M78.20 830.91h5M274.60 830.91h-5M78.20 851.94h5M274.60 851.94h-5M78.20 872.97h5M274.60 872.97h-5M78.20 894.00h5M274.60 894.00h-5" stroke="#000" stroke-width="1.1" fill="none"/>
<path d="M78.20 757.31h2.5M274.60 757.31h-2.5M78.20 778.34h2.5M274.60 778.34h-2.5M78.20 799.37h2.5M274.60 799.37h-2.5M78.20 820.40h2.5M274.60 820.40h-2.5M78.20 841.43h2.5M274.60 841.43h-2.5M78.20 862.46h2.5M274.60 862.46h-2.5M78.20 883.49h2.5M274.60 883.49h-2.5" stroke="#000" stroke-width="1.1" fill="none"/>
<path d="M78.20 894.00v-5M78.20 746.80v5M127.30 894.00v-5M127.30 746.80v5M176.40 894.00v-5M176.40 746.80v5M225.50 894.00v-5M225.50 746.80v5M274.60 894.00v-5M274.60 746.80v5" stroke="#000" stroke-width="1.1" fill="none"/>
<path d="M92.98 894.00v-2.5M92.98 746.80v2.5M101.63 894.00v-2.5M101.63 746.80v2.5M107.76 894.00v-2.5M107.76 746.80v2.5M112.52 894.00v-2.5M112.52 746.80v2.5M116.41 894.00v-2.5M116.41 746.80v2.5M119.69 894.00v-2.5M119.69 746.80v2.5M122.54 894.00v-2.5M122.54 746.80v2.5M125.05 894.00v-2.5M125.05 746.80v2.5M142.08 894.00v-2.5M142.08 746.80v2.5M150.73 894.00v-2.5M150.73 746.80v2.5M156.86 894.00v-2.5M156.86 746.80v2.5M161.62 894.00v-2.5M161.62 746.80v2.5M165.51 894.00v-2.5M165.51 746.80v2.5M168.79 894.00v-2.5M168.79 746.80v2.5M171.64 894.00v-2.5M171.64 746.80v2.5M174.15 894.00v-2.5M174.15 746.80v2.5M191.18 894.00v-2.5M191.18 746.80v2.5M199.83 894.00v-2.5M199.83 746.80v2.5M205.96 894.00v-2.5M205.96 746.80v2.5M210.72 894.00v-2.5M210.72 746.80v2.5M214.61 894.00v-2.5M214.61 746.80v2.5M217.89 894.00v-2.5M217.89 746.80v2.5M220.74 894.00v-2.5M220.74 746.80v2.5M223.25 894.00v-2.5M223.25 746.80v2.5M240.28 894.00v-2.5M240.28 746.80v2.5M248.93 894.00v-2.5M248.93 746.80v2.5M255.06 894.00v-2.5M255.06 746.80v2.5M259.82 894.00v-2.5M259.82 746.80v2.5M263.71 894.00v-2.5M263.71 746.80v2.5M266.99 894.00v-2.5M266.99 746.80v2.5M269.84 894.00v-2.5M269.84 746.80v2.5M272.35 894.00v-2.5M272.35 746.80v2.5" stroke="#000" stroke-width="1.1" fill="none"/>
<text x="69.80" y="751.70" font-size="16.4" text-anchor="end" fill="#000" stroke="#000">10<tspan dy="-7.2" font-size="11.48">-6</tspan></text>
<text x="69.80" y="772.73" font-size="16.4" text-anchor="end" fill="#000" stroke="#000">10<tspan dy="-7.2" font-size="11.48">-8</tspan></text>
<text x="69.80" y="793.76" font-size="16.4" text-anchor="end" fill="#000" stroke="#000">10<tspan dy="-7.2" font-size="11.48">-10</tspan></text>
<text x="69.80" y="814.79" font-size="16.4" text-anchor="end" fill="#000" stroke="#000">10<tspan dy="-7.2" font-size="11.48">-12</tspan></text>
<text x="69.80" y="835.81" font-size="16.4" text-anchor="end" fill="#000" stroke="#000">10<tspan dy="-7.2" font-size="11.48">-14</tspan></text>
<text x="69.80" y="856.84" font-size="16.4" text-anchor="end" fill="#000" stroke="#000">10<tspan dy="-7.2" font-size="11.48">-16</tspan></text>
<text x="69.80" y="877.87" font-size="16.4" text-anchor="end" fill="#000" stroke="#000">10<tspan dy="-7.2" font-size="11.48">-18</tspan></text>
<text x="69.80" y="898.90" font-size="16.4" text-anchor="end" fill="#000" stroke="#000">10<tspan dy="-7.2" font-size="11.48">-20</tspan></text>
<text x="77.00" y="914.80" font-size="16.4" text-anchor="middle" fill="#000" stroke="#000">10<tspan dy="-7.2" font-size="11.48">-2</tspan></text>
<text x="126.10" y="914.80" font-size="16.4" text-anchor="middle" fill="#000" stroke="#000">10<tspan dy="-7.2" font-size="11.48">-1</tspan></text>
<text x="175.20" y="914.80" font-size="16.4" text-anchor="middle" fill="#000" stroke="#000">10<tspan dy="-7.2" font-size="11.48">0</tspan></text>
<text x="224.30" y="914.80" font-size="16.4" text-anchor="middle" fill="#000" stroke="#000">10<tspan dy="-7.2" font-size="11.48">1</tspan></text>
<text x="273.40" y="914.80" font-size="16.4" text-anchor="middle" fill="#000" stroke="#000">10<tspan dy="-7.2" font-size="11.48">2</tspan></text>
<text x="176.40" y="937.90" font-size="16.4" text-anchor="middle" fill="#000" stroke="#000" >Frequency[Hz]</text>
<text transform="translate(19.60 820.40) rotate(-90)" font-size="16.4" text-anchor="middle" fill="#000" stroke="#000">Amplitude[m]</text>
</svg>
</body></html>
